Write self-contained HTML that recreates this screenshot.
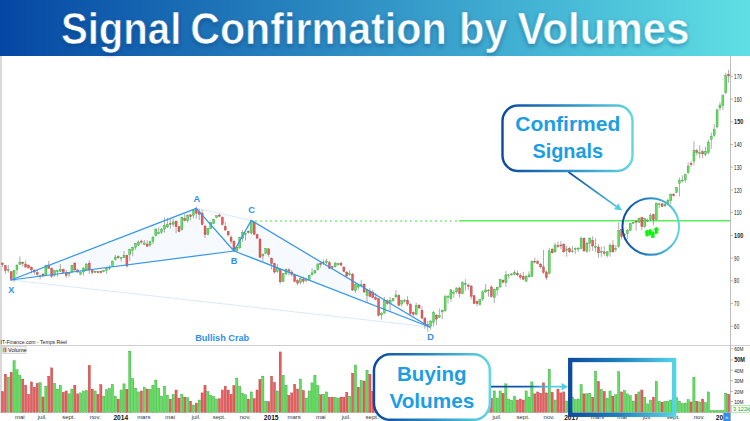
<!DOCTYPE html>
<html><head><meta charset="utf-8">
<style>
html,body{margin:0;padding:0;background:#fff;}
body{width:750px;height:421px;overflow:hidden;position:relative;font-family:"Liberation Sans",sans-serif;}
#hdr{position:absolute;left:0;top:0;width:750px;height:55.5px;background:linear-gradient(90deg,#0547a4 0%,#1a6db4 25%,#3193c6 50%,#47b9d6 75%,#5fdfe4 100%);}
#ttl{position:absolute;left:0;top:0;width:750px;height:55px;color:#fff;font-weight:bold;font-size:42.5px;line-height:1;white-space:nowrap;text-shadow:0 1px 5px rgba(0,30,90,.35);}
#ttl span{position:absolute;top:8.8px;display:inline-block;transform-origin:0 50%;}
svg{position:absolute;left:0;top:0;}
svg text{font-family:"Liberation Sans",sans-serif;}
</style></head><body>
<div id="hdr"></div>
<svg width="750" height="421" viewBox="0 0 750 421">
<defs>
<filter id="bl" x="-1%" y="-1%" width="102%" height="102%"><feGaussianBlur stdDeviation="0.3"/></filter>
<linearGradient id="gb" x1="0" y1="0" x2="1" y2="0"><stop offset="0" stop-color="#0c4a9f"/><stop offset="0.5" stop-color="#2a8cc4"/><stop offset="1" stop-color="#5fd8e4"/></linearGradient>
<linearGradient id="garr" gradientUnits="userSpaceOnUse" x1="568" y1="172" x2="622" y2="210"><stop offset="0" stop-color="#0c4a9f"/><stop offset="1" stop-color="#4fd0e2"/></linearGradient>
<linearGradient id="garr2" gradientUnits="userSpaceOnUse" x1="491" y1="386" x2="568" y2="386"><stop offset="0" stop-color="#0c4a9f"/><stop offset="0.5" stop-color="#155aaa"/><stop offset="0.75" stop-color="#4fd0e2"/><stop offset="1" stop-color="#4fd0e2"/></linearGradient>
<linearGradient id="gcirc" gradientUnits="userSpaceOnUse" x1="622" y1="226" x2="680" y2="226"><stop offset="0" stop-color="#0c4a9f"/><stop offset="0.5" stop-color="#2a8cc4"/><stop offset="1" stop-color="#5fd8e4"/></linearGradient>
<linearGradient id="grect" gradientUnits="userSpaceOnUse" x1="568" y1="0" x2="676" y2="0"><stop offset="0" stop-color="#0c4a9f"/><stop offset="0.45" stop-color="#1f7cbb"/><stop offset="1" stop-color="#55d6e6"/></linearGradient>
</defs>
<linearGradient id="ghdr" gradientUnits="userSpaceOnUse" x1="0" y1="0" x2="750" y2="0"><stop offset="0" stop-color="#0547a4"/><stop offset="0.25" stop-color="#1a6db4"/><stop offset="0.5" stop-color="#3193c6"/><stop offset="0.75" stop-color="#47b9d6"/><stop offset="1" stop-color="#5fdfe4"/></linearGradient>
<filter id="tsh" x="-5%" y="-30%" width="110%" height="170%"><feGaussianBlur stdDeviation="2.2"/></filter>
<g font-weight="bold" font-size="43.5" lengthAdjust="spacingAndGlyphs">
<g fill="#002a6a" fill-opacity="0.42" filter="url(#tsh)" transform="translate(0,1.5)">
<text x="60.9" y="44.3" textLength="120.4" lengthAdjust="spacingAndGlyphs">Signal</text>
<text x="190.2" y="44.3" textLength="256.4" lengthAdjust="spacingAndGlyphs">Confirmation</text>
<text x="459" y="44.3" textLength="48.4" lengthAdjust="spacingAndGlyphs">by</text>
<text x="517.4" y="44.3" textLength="172.1" lengthAdjust="spacingAndGlyphs">Volumes</text>
</g>
<g fill="#fff" stroke="url(#ghdr)" stroke-width="0.7">
<text x="60.9" y="44.3" textLength="120.4" lengthAdjust="spacingAndGlyphs">Signal</text>
<text x="190.2" y="44.3" textLength="256.4" lengthAdjust="spacingAndGlyphs">Confirmation</text>
<text x="459" y="44.3" textLength="48.4" lengthAdjust="spacingAndGlyphs">by</text>
<text x="517.4" y="44.3" textLength="172.1" lengthAdjust="spacingAndGlyphs">Volumes</text>
</g>
</g>
<!-- frame lines -->
<line x1="1" x2="1" y1="56" y2="413" stroke="#aaa" stroke-width="0.9"/>
<line x1="0" x2="750" y1="345.5" y2="345.5" stroke="#cfcfcf" stroke-width="1"/>
<line x1="730.5" x2="730.5" y1="56" y2="421" stroke="#b8b8b8" stroke-width="0.9"/>
<line x1="0" x2="730" y1="412.6" y2="412.6" stroke="#bdbdbd" stroke-width="0.6"/>
<!-- pattern fills -->
<polygon points="11,280 196.3,208.3 234,251" fill="#e3effc" fill-opacity="0.32"/>
<polygon points="234,251 251.3,220.4 429.7,327" fill="#e3effc" fill-opacity="0.32"/>
<line x1="11" y1="280" x2="429.7" y2="327" stroke="#cfe3fa" stroke-width="0.8"/>
<line x1="196.3" y1="208.3" x2="251.3" y2="220.4" stroke="#cfe3fa" stroke-width="0.8"/>
<!-- green lines -->
<line x1="255" x2="460" y1="221" y2="221" stroke="#80f080" stroke-width="1.3" stroke-dasharray="2 3"/>
<line x1="459" x2="730" y1="220.7" y2="220.7" stroke="#58f058" stroke-width="1.6"/>
<g id="candles" filter="url(#bl)">
<line x1="2.50" x2="2.50" y1="262.67" y2="267.07" stroke="#808080" stroke-width="0.65"/>
<rect x="1.50" y="263.07" width="2.0" height="1.60" fill="#e75c5c" stroke="#b23c3c" stroke-width="0.35"/>
<line x1="5.39" x2="5.39" y1="264.93" y2="274.00" stroke="#808080" stroke-width="0.65"/>
<rect x="4.39" y="265.73" width="2.0" height="4.93" fill="#e75c5c" stroke="#b23c3c" stroke-width="0.35"/>
<line x1="8.29" x2="8.29" y1="264.93" y2="272.67" stroke="#808080" stroke-width="0.65"/>
<rect x="7.29" y="269.73" width="2.0" height="0.90" fill="#5ee05e" stroke="#2a982a" stroke-width="0.35"/>
<line x1="11.18" x2="11.18" y1="271.33" y2="280.00" stroke="#808080" stroke-width="0.65"/>
<rect x="10.18" y="271.60" width="2.0" height="7.47" fill="#e75c5c" stroke="#b23c3c" stroke-width="0.35"/>
<line x1="14.07" x2="14.07" y1="269.73" y2="282.00" stroke="#808080" stroke-width="0.65"/>
<rect x="13.07" y="270.27" width="2.0" height="8.40" fill="#5ee05e" stroke="#2a982a" stroke-width="0.35"/>
<line x1="16.96" x2="16.96" y1="264.40" y2="274.67" stroke="#808080" stroke-width="0.65"/>
<rect x="15.96" y="265.07" width="2.0" height="4.67" fill="#5ee05e" stroke="#2a982a" stroke-width="0.35"/>
<line x1="19.86" x2="19.86" y1="256.40" y2="264.93" stroke="#808080" stroke-width="0.65"/>
<rect x="18.86" y="262.00" width="2.0" height="2.40" fill="#5ee05e" stroke="#2a982a" stroke-width="0.35"/>
<line x1="22.75" x2="22.75" y1="261.73" y2="266.67" stroke="#808080" stroke-width="0.65"/>
<rect x="21.75" y="262.27" width="2.0" height="1.33" fill="#e75c5c" stroke="#b23c3c" stroke-width="0.35"/>
<line x1="25.64" x2="25.64" y1="260.40" y2="267.60" stroke="#808080" stroke-width="0.65"/>
<rect x="24.64" y="264.00" width="2.0" height="3.07" fill="#e75c5c" stroke="#b23c3c" stroke-width="0.35"/>
<line x1="28.54" x2="28.54" y1="264.67" y2="268.40" stroke="#808080" stroke-width="0.65"/>
<rect x="27.54" y="265.07" width="2.0" height="2.93" fill="#e75c5c" stroke="#b23c3c" stroke-width="0.35"/>
<line x1="31.43" x2="31.43" y1="266.67" y2="273.33" stroke="#808080" stroke-width="0.65"/>
<rect x="30.43" y="267.07" width="2.0" height="2.93" fill="#e75c5c" stroke="#b23c3c" stroke-width="0.35"/>
<line x1="34.32" x2="34.32" y1="269.33" y2="274.67" stroke="#808080" stroke-width="0.65"/>
<rect x="33.32" y="270.00" width="2.0" height="2.00" fill="#e75c5c" stroke="#b23c3c" stroke-width="0.35"/>
<line x1="37.22" x2="37.22" y1="269.33" y2="276.00" stroke="#808080" stroke-width="0.65"/>
<rect x="36.22" y="272.67" width="2.0" height="1.60" fill="#e75c5c" stroke="#b23c3c" stroke-width="0.35"/>
<line x1="40.11" x2="40.11" y1="274.67" y2="279.33" stroke="#808080" stroke-width="0.65"/>
<rect x="39.11" y="275.73" width="2.0" height="0.90" fill="#5ee05e" stroke="#2a982a" stroke-width="0.35"/>
<line x1="43.00" x2="43.00" y1="273.33" y2="277.33" stroke="#808080" stroke-width="0.65"/>
<rect x="42.00" y="274.00" width="2.0" height="1.60" fill="#e75c5c" stroke="#b23c3c" stroke-width="0.35"/>
<line x1="45.89" x2="45.89" y1="264.67" y2="276.00" stroke="#808080" stroke-width="0.65"/>
<rect x="44.89" y="265.33" width="2.0" height="10.00" fill="#5ee05e" stroke="#2a982a" stroke-width="0.35"/>
<line x1="48.79" x2="48.79" y1="260.93" y2="268.93" stroke="#808080" stroke-width="0.65"/>
<rect x="47.79" y="265.07" width="2.0" height="3.33" fill="#e75c5c" stroke="#b23c3c" stroke-width="0.35"/>
<line x1="51.68" x2="51.68" y1="267.33" y2="277.73" stroke="#808080" stroke-width="0.65"/>
<rect x="50.68" y="268.40" width="2.0" height="8.00" fill="#e75c5c" stroke="#b23c3c" stroke-width="0.35"/>
<line x1="54.57" x2="54.57" y1="270.00" y2="276.67" stroke="#808080" stroke-width="0.65"/>
<rect x="53.57" y="270.67" width="2.0" height="4.67" fill="#5ee05e" stroke="#2a982a" stroke-width="0.35"/>
<line x1="57.47" x2="57.47" y1="270.00" y2="276.67" stroke="#808080" stroke-width="0.65"/>
<rect x="56.47" y="270.80" width="2.0" height="0.90" fill="#5ee05e" stroke="#2a982a" stroke-width="0.35"/>
<line x1="60.36" x2="60.36" y1="264.00" y2="272.00" stroke="#808080" stroke-width="0.65"/>
<rect x="59.36" y="269.33" width="2.0" height="2.00" fill="#5ee05e" stroke="#2a982a" stroke-width="0.35"/>
<line x1="63.25" x2="63.25" y1="268.67" y2="273.33" stroke="#808080" stroke-width="0.65"/>
<rect x="62.25" y="269.33" width="2.0" height="3.33" fill="#e75c5c" stroke="#b23c3c" stroke-width="0.35"/>
<line x1="66.15" x2="66.15" y1="270.00" y2="278.00" stroke="#808080" stroke-width="0.65"/>
<rect x="65.15" y="272.67" width="2.0" height="2.93" fill="#e75c5c" stroke="#b23c3c" stroke-width="0.35"/>
<line x1="69.04" x2="69.04" y1="272.00" y2="277.33" stroke="#808080" stroke-width="0.65"/>
<rect x="68.04" y="273.07" width="2.0" height="0.90" fill="#5ee05e" stroke="#2a982a" stroke-width="0.35"/>
<line x1="71.93" x2="71.93" y1="264.93" y2="272.67" stroke="#808080" stroke-width="0.65"/>
<rect x="70.93" y="265.33" width="2.0" height="6.67" fill="#5ee05e" stroke="#2a982a" stroke-width="0.35"/>
<line x1="74.82" x2="74.82" y1="262.27" y2="270.67" stroke="#808080" stroke-width="0.65"/>
<rect x="73.82" y="263.07" width="2.0" height="6.93" fill="#e75c5c" stroke="#b23c3c" stroke-width="0.35"/>
<line x1="77.72" x2="77.72" y1="268.67" y2="272.93" stroke="#808080" stroke-width="0.65"/>
<rect x="76.72" y="270.00" width="2.0" height="2.00" fill="#e75c5c" stroke="#b23c3c" stroke-width="0.35"/>
<line x1="80.61" x2="80.61" y1="271.33" y2="275.07" stroke="#808080" stroke-width="0.65"/>
<rect x="79.61" y="272.00" width="2.0" height="2.27" fill="#5ee05e" stroke="#2a982a" stroke-width="0.35"/>
<line x1="83.50" x2="83.50" y1="267.60" y2="275.60" stroke="#808080" stroke-width="0.65"/>
<rect x="82.50" y="268.00" width="2.0" height="4.00" fill="#5ee05e" stroke="#2a982a" stroke-width="0.35"/>
<line x1="86.40" x2="86.40" y1="263.33" y2="270.67" stroke="#808080" stroke-width="0.65"/>
<rect x="85.40" y="264.00" width="2.0" height="6.00" fill="#5ee05e" stroke="#2a982a" stroke-width="0.35"/>
<line x1="89.29" x2="89.29" y1="260.40" y2="274.00" stroke="#808080" stroke-width="0.65"/>
<rect x="88.29" y="263.07" width="2.0" height="6.93" fill="#e75c5c" stroke="#b23c3c" stroke-width="0.35"/>
<line x1="92.18" x2="92.18" y1="270.00" y2="274.67" stroke="#808080" stroke-width="0.65"/>
<rect x="91.18" y="270.67" width="2.0" height="1.73" fill="#e75c5c" stroke="#b23c3c" stroke-width="0.35"/>
<line x1="95.08" x2="95.08" y1="270.67" y2="272.93" stroke="#808080" stroke-width="0.65"/>
<rect x="94.08" y="271.47" width="2.0" height="0.90" fill="#5ee05e" stroke="#2a982a" stroke-width="0.35"/>
<line x1="97.97" x2="97.97" y1="271.07" y2="273.33" stroke="#808080" stroke-width="0.65"/>
<rect x="96.97" y="271.73" width="2.0" height="0.90" fill="#e75c5c" stroke="#b23c3c" stroke-width="0.35"/>
<line x1="100.86" x2="100.86" y1="270.67" y2="273.33" stroke="#808080" stroke-width="0.65"/>
<rect x="99.86" y="271.33" width="2.0" height="1.33" fill="#e75c5c" stroke="#b23c3c" stroke-width="0.35"/>
<line x1="103.75" x2="103.75" y1="270.00" y2="272.27" stroke="#808080" stroke-width="0.65"/>
<rect x="102.75" y="270.67" width="2.0" height="0.90" fill="#5ee05e" stroke="#2a982a" stroke-width="0.35"/>
<line x1="106.65" x2="106.65" y1="268.00" y2="274.00" stroke="#808080" stroke-width="0.65"/>
<rect x="105.65" y="268.67" width="2.0" height="1.73" fill="#5ee05e" stroke="#2a982a" stroke-width="0.35"/>
<line x1="109.54" x2="109.54" y1="265.33" y2="270.00" stroke="#808080" stroke-width="0.65"/>
<rect x="108.54" y="267.47" width="2.0" height="0.90" fill="#5ee05e" stroke="#2a982a" stroke-width="0.35"/>
<line x1="112.43" x2="112.43" y1="260.40" y2="266.93" stroke="#808080" stroke-width="0.65"/>
<rect x="111.43" y="261.07" width="2.0" height="5.33" fill="#5ee05e" stroke="#2a982a" stroke-width="0.35"/>
<line x1="115.33" x2="115.33" y1="254.93" y2="260.67" stroke="#808080" stroke-width="0.65"/>
<rect x="114.33" y="257.07" width="2.0" height="2.67" fill="#5ee05e" stroke="#2a982a" stroke-width="0.35"/>
<line x1="118.22" x2="118.22" y1="255.33" y2="258.93" stroke="#808080" stroke-width="0.65"/>
<rect x="117.22" y="256.67" width="2.0" height="1.07" fill="#e75c5c" stroke="#b23c3c" stroke-width="0.35"/>
<line x1="121.11" x2="121.11" y1="257.07" y2="261.60" stroke="#808080" stroke-width="0.65"/>
<rect x="120.11" y="257.47" width="2.0" height="0.90" fill="#5ee05e" stroke="#2a982a" stroke-width="0.35"/>
<line x1="124.01" x2="124.01" y1="250.93" y2="258.00" stroke="#808080" stroke-width="0.65"/>
<rect x="123.01" y="255.33" width="2.0" height="2.27" fill="#5ee05e" stroke="#2a982a" stroke-width="0.35"/>
<line x1="126.90" x2="126.90" y1="254.67" y2="267.73" stroke="#808080" stroke-width="0.65"/>
<rect x="125.90" y="255.33" width="2.0" height="10.67" fill="#e75c5c" stroke="#b23c3c" stroke-width="0.35"/>
<line x1="129.79" x2="129.79" y1="248.67" y2="260.67" stroke="#808080" stroke-width="0.65"/>
<rect x="128.79" y="249.60" width="2.0" height="4.80" fill="#5ee05e" stroke="#2a982a" stroke-width="0.35"/>
<line x1="132.69" x2="132.69" y1="246.67" y2="256.27" stroke="#808080" stroke-width="0.65"/>
<rect x="131.69" y="247.33" width="2.0" height="3.07" fill="#5ee05e" stroke="#2a982a" stroke-width="0.35"/>
<line x1="135.58" x2="135.58" y1="242.93" y2="250.00" stroke="#808080" stroke-width="0.65"/>
<rect x="134.58" y="243.73" width="2.0" height="3.60" fill="#5ee05e" stroke="#2a982a" stroke-width="0.35"/>
<line x1="138.47" x2="138.47" y1="240.27" y2="246.00" stroke="#808080" stroke-width="0.65"/>
<rect x="137.47" y="242.00" width="2.0" height="3.07" fill="#5ee05e" stroke="#2a982a" stroke-width="0.35"/>
<line x1="141.36" x2="141.36" y1="239.73" y2="243.73" stroke="#808080" stroke-width="0.65"/>
<rect x="140.36" y="241.07" width="2.0" height="1.07" fill="#e75c5c" stroke="#b23c3c" stroke-width="0.35"/>
<line x1="144.26" x2="144.26" y1="240.00" y2="245.33" stroke="#808080" stroke-width="0.65"/>
<rect x="143.26" y="242.93" width="2.0" height="1.33" fill="#5ee05e" stroke="#2a982a" stroke-width="0.35"/>
<line x1="147.15" x2="147.15" y1="240.27" y2="246.67" stroke="#808080" stroke-width="0.65"/>
<rect x="146.15" y="244.00" width="2.0" height="2.40" fill="#e75c5c" stroke="#b23c3c" stroke-width="0.35"/>
<line x1="150.04" x2="150.04" y1="240.67" y2="246.67" stroke="#808080" stroke-width="0.65"/>
<rect x="149.04" y="241.73" width="2.0" height="3.33" fill="#5ee05e" stroke="#2a982a" stroke-width="0.35"/>
<line x1="152.94" x2="152.94" y1="236.27" y2="244.00" stroke="#808080" stroke-width="0.65"/>
<rect x="151.94" y="237.07" width="2.0" height="4.27" fill="#5ee05e" stroke="#2a982a" stroke-width="0.35"/>
<line x1="155.83" x2="155.83" y1="228.27" y2="236.27" stroke="#808080" stroke-width="0.65"/>
<rect x="154.83" y="229.07" width="2.0" height="6.67" fill="#5ee05e" stroke="#2a982a" stroke-width="0.35"/>
<line x1="158.72" x2="158.72" y1="227.33" y2="234.40" stroke="#808080" stroke-width="0.65"/>
<rect x="157.72" y="232.67" width="2.0" height="1.07" fill="#5ee05e" stroke="#2a982a" stroke-width="0.35"/>
<line x1="161.61" x2="161.61" y1="228.00" y2="234.00" stroke="#808080" stroke-width="0.65"/>
<rect x="160.61" y="229.07" width="2.0" height="3.20" fill="#5ee05e" stroke="#2a982a" stroke-width="0.35"/>
<line x1="164.51" x2="164.51" y1="217.33" y2="232.67" stroke="#808080" stroke-width="0.65"/>
<rect x="163.51" y="225.60" width="2.0" height="3.47" fill="#5ee05e" stroke="#2a982a" stroke-width="0.35"/>
<line x1="167.40" x2="167.40" y1="218.00" y2="228.00" stroke="#808080" stroke-width="0.65"/>
<rect x="166.40" y="224.67" width="2.0" height="2.27" fill="#5ee05e" stroke="#2a982a" stroke-width="0.35"/>
<line x1="170.29" x2="170.29" y1="219.33" y2="228.67" stroke="#808080" stroke-width="0.65"/>
<rect x="169.29" y="223.47" width="2.0" height="0.90" fill="#e75c5c" stroke="#b23c3c" stroke-width="0.35"/>
<line x1="173.19" x2="173.19" y1="218.67" y2="226.67" stroke="#808080" stroke-width="0.65"/>
<rect x="172.19" y="222.00" width="2.0" height="2.27" fill="#5ee05e" stroke="#2a982a" stroke-width="0.35"/>
<line x1="176.08" x2="176.08" y1="220.67" y2="233.33" stroke="#808080" stroke-width="0.65"/>
<rect x="175.08" y="221.07" width="2.0" height="5.60" fill="#e75c5c" stroke="#b23c3c" stroke-width="0.35"/>
<line x1="178.97" x2="178.97" y1="226.00" y2="232.27" stroke="#808080" stroke-width="0.65"/>
<rect x="177.97" y="226.67" width="2.0" height="5.07" fill="#e75c5c" stroke="#b23c3c" stroke-width="0.35"/>
<line x1="181.87" x2="181.87" y1="216.67" y2="230.93" stroke="#808080" stroke-width="0.65"/>
<rect x="180.87" y="217.33" width="2.0" height="12.00" fill="#5ee05e" stroke="#2a982a" stroke-width="0.35"/>
<line x1="184.76" x2="184.76" y1="214.00" y2="221.33" stroke="#808080" stroke-width="0.65"/>
<rect x="183.76" y="218.40" width="2.0" height="2.27" fill="#e75c5c" stroke="#b23c3c" stroke-width="0.35"/>
<line x1="187.65" x2="187.65" y1="214.40" y2="222.67" stroke="#808080" stroke-width="0.65"/>
<rect x="186.65" y="215.33" width="2.0" height="5.33" fill="#5ee05e" stroke="#2a982a" stroke-width="0.35"/>
<line x1="190.54" x2="190.54" y1="214.00" y2="220.27" stroke="#808080" stroke-width="0.65"/>
<rect x="189.54" y="214.93" width="2.0" height="1.73" fill="#e75c5c" stroke="#b23c3c" stroke-width="0.35"/>
<line x1="193.44" x2="193.44" y1="209.33" y2="218.40" stroke="#808080" stroke-width="0.65"/>
<rect x="192.44" y="210.40" width="2.0" height="4.93" fill="#5ee05e" stroke="#2a982a" stroke-width="0.35"/>
<line x1="196.33" x2="196.33" y1="206.40" y2="218.67" stroke="#808080" stroke-width="0.65"/>
<rect x="195.33" y="209.33" width="2.0" height="4.00" fill="#e75c5c" stroke="#b23c3c" stroke-width="0.35"/>
<line x1="199.22" x2="199.22" y1="208.67" y2="220.00" stroke="#808080" stroke-width="0.65"/>
<rect x="198.22" y="212.00" width="2.0" height="2.40" fill="#e75c5c" stroke="#b23c3c" stroke-width="0.35"/>
<line x1="202.12" x2="202.12" y1="210.00" y2="225.33" stroke="#808080" stroke-width="0.65"/>
<rect x="201.12" y="213.07" width="2.0" height="11.60" fill="#e75c5c" stroke="#b23c3c" stroke-width="0.35"/>
<line x1="205.01" x2="205.01" y1="225.33" y2="238.00" stroke="#808080" stroke-width="0.65"/>
<rect x="204.01" y="226.00" width="2.0" height="8.67" fill="#e75c5c" stroke="#b23c3c" stroke-width="0.35"/>
<line x1="207.90" x2="207.90" y1="228.00" y2="235.33" stroke="#808080" stroke-width="0.65"/>
<rect x="206.90" y="228.67" width="2.0" height="5.73" fill="#5ee05e" stroke="#2a982a" stroke-width="0.35"/>
<line x1="210.80" x2="210.80" y1="221.60" y2="229.33" stroke="#808080" stroke-width="0.65"/>
<rect x="209.80" y="222.40" width="2.0" height="6.27" fill="#5ee05e" stroke="#2a982a" stroke-width="0.35"/>
<line x1="213.69" x2="213.69" y1="218.67" y2="224.27" stroke="#808080" stroke-width="0.65"/>
<rect x="212.69" y="219.33" width="2.0" height="4.40" fill="#5ee05e" stroke="#2a982a" stroke-width="0.35"/>
<line x1="216.58" x2="216.58" y1="215.33" y2="218.40" stroke="#808080" stroke-width="0.65"/>
<rect x="215.58" y="215.73" width="2.0" height="1.87" fill="#5ee05e" stroke="#2a982a" stroke-width="0.35"/>
<line x1="219.47" x2="219.47" y1="213.60" y2="217.33" stroke="#808080" stroke-width="0.65"/>
<rect x="218.47" y="215.07" width="2.0" height="1.20" fill="#e75c5c" stroke="#b23c3c" stroke-width="0.35"/>
<line x1="222.37" x2="222.37" y1="216.67" y2="225.60" stroke="#808080" stroke-width="0.65"/>
<rect x="221.37" y="217.07" width="2.0" height="7.60" fill="#e75c5c" stroke="#b23c3c" stroke-width="0.35"/>
<line x1="225.26" x2="225.26" y1="222.00" y2="230.93" stroke="#808080" stroke-width="0.65"/>
<rect x="224.26" y="226.40" width="2.0" height="3.60" fill="#e75c5c" stroke="#b23c3c" stroke-width="0.35"/>
<line x1="228.15" x2="228.15" y1="230.93" y2="236.67" stroke="#808080" stroke-width="0.65"/>
<rect x="227.15" y="231.33" width="2.0" height="3.60" fill="#e75c5c" stroke="#b23c3c" stroke-width="0.35"/>
<line x1="231.05" x2="231.05" y1="235.33" y2="244.00" stroke="#808080" stroke-width="0.65"/>
<rect x="230.05" y="237.33" width="2.0" height="4.00" fill="#e75c5c" stroke="#b23c3c" stroke-width="0.35"/>
<line x1="233.94" x2="233.94" y1="240.67" y2="250.93" stroke="#808080" stroke-width="0.65"/>
<rect x="232.94" y="241.07" width="2.0" height="8.93" fill="#e75c5c" stroke="#b23c3c" stroke-width="0.35"/>
<line x1="236.83" x2="236.83" y1="246.67" y2="252.00" stroke="#808080" stroke-width="0.65"/>
<rect x="235.83" y="247.33" width="2.0" height="3.60" fill="#5ee05e" stroke="#2a982a" stroke-width="0.35"/>
<line x1="239.73" x2="239.73" y1="236.67" y2="248.67" stroke="#808080" stroke-width="0.65"/>
<rect x="238.73" y="237.33" width="2.0" height="10.67" fill="#5ee05e" stroke="#2a982a" stroke-width="0.35"/>
<line x1="242.62" x2="242.62" y1="230.00" y2="242.00" stroke="#808080" stroke-width="0.65"/>
<rect x="241.62" y="232.27" width="2.0" height="6.13" fill="#5ee05e" stroke="#2a982a" stroke-width="0.35"/>
<line x1="245.51" x2="245.51" y1="232.67" y2="240.67" stroke="#808080" stroke-width="0.65"/>
<rect x="244.51" y="233.73" width="2.0" height="0.90" fill="#5ee05e" stroke="#2a982a" stroke-width="0.35"/>
<line x1="248.40" x2="248.40" y1="230.40" y2="233.60" stroke="#808080" stroke-width="0.65"/>
<rect x="247.40" y="231.33" width="2.0" height="1.33" fill="#e75c5c" stroke="#b23c3c" stroke-width="0.35"/>
<line x1="251.30" x2="251.30" y1="220.00" y2="234.00" stroke="#808080" stroke-width="0.65"/>
<rect x="250.30" y="220.67" width="2.0" height="12.40" fill="#5ee05e" stroke="#2a982a" stroke-width="0.35"/>
<line x1="254.19" x2="254.19" y1="221.24" y2="234.96" stroke="#808080" stroke-width="0.65"/>
<rect x="253.19" y="222.13" width="2.0" height="12.12" fill="#e75c5c" stroke="#b23c3c" stroke-width="0.35"/>
<line x1="257.08" x2="257.08" y1="233.72" y2="239.06" stroke="#808080" stroke-width="0.65"/>
<rect x="256.08" y="234.61" width="2.0" height="3.57" fill="#e75c5c" stroke="#b23c3c" stroke-width="0.35"/>
<line x1="259.98" x2="259.98" y1="238.17" y2="258.14" stroke="#808080" stroke-width="0.65"/>
<rect x="258.98" y="239.06" width="2.0" height="18.36" fill="#e75c5c" stroke="#b23c3c" stroke-width="0.35"/>
<line x1="262.87" x2="262.87" y1="253.32" y2="261.70" stroke="#808080" stroke-width="0.65"/>
<rect x="261.87" y="254.57" width="2.0" height="1.43" fill="#5ee05e" stroke="#2a982a" stroke-width="0.35"/>
<line x1="265.76" x2="265.76" y1="247.98" y2="254.22" stroke="#808080" stroke-width="0.65"/>
<rect x="264.76" y="248.51" width="2.0" height="4.81" fill="#5ee05e" stroke="#2a982a" stroke-width="0.35"/>
<line x1="268.66" x2="268.66" y1="247.98" y2="256.89" stroke="#808080" stroke-width="0.65"/>
<rect x="267.66" y="248.87" width="2.0" height="5.70" fill="#e75c5c" stroke="#b23c3c" stroke-width="0.35"/>
<line x1="271.55" x2="271.55" y1="257.42" y2="269.37" stroke="#808080" stroke-width="0.65"/>
<rect x="270.55" y="258.14" width="2.0" height="5.35" fill="#e75c5c" stroke="#b23c3c" stroke-width="0.35"/>
<line x1="274.44" x2="274.44" y1="262.77" y2="273.82" stroke="#808080" stroke-width="0.65"/>
<rect x="273.44" y="263.48" width="2.0" height="8.56" fill="#e75c5c" stroke="#b23c3c" stroke-width="0.35"/>
<line x1="277.33" x2="277.33" y1="264.02" y2="272.93" stroke="#808080" stroke-width="0.65"/>
<rect x="276.33" y="268.48" width="2.0" height="3.21" fill="#5ee05e" stroke="#2a982a" stroke-width="0.35"/>
<line x1="280.23" x2="280.23" y1="268.48" y2="283.63" stroke="#808080" stroke-width="0.65"/>
<rect x="279.23" y="269.37" width="2.0" height="12.48" fill="#e75c5c" stroke="#b23c3c" stroke-width="0.35"/>
<line x1="283.12" x2="283.12" y1="272.93" y2="282.38" stroke="#808080" stroke-width="0.65"/>
<rect x="282.12" y="273.82" width="2.0" height="7.49" fill="#5ee05e" stroke="#2a982a" stroke-width="0.35"/>
<line x1="286.01" x2="286.01" y1="268.48" y2="275.61" stroke="#808080" stroke-width="0.65"/>
<rect x="285.01" y="269.37" width="2.0" height="4.46" fill="#5ee05e" stroke="#2a982a" stroke-width="0.35"/>
<line x1="288.91" x2="288.91" y1="268.12" y2="275.61" stroke="#808080" stroke-width="0.65"/>
<rect x="287.91" y="269.90" width="2.0" height="1.25" fill="#e75c5c" stroke="#b23c3c" stroke-width="0.35"/>
<line x1="291.80" x2="291.80" y1="270.26" y2="276.50" stroke="#808080" stroke-width="0.65"/>
<rect x="290.80" y="272.04" width="2.0" height="2.14" fill="#e75c5c" stroke="#b23c3c" stroke-width="0.35"/>
<line x1="294.69" x2="294.69" y1="274.18" y2="282.38" stroke="#808080" stroke-width="0.65"/>
<rect x="293.69" y="275.25" width="2.0" height="6.06" fill="#e75c5c" stroke="#b23c3c" stroke-width="0.35"/>
<line x1="297.59" x2="297.59" y1="279.17" y2="285.41" stroke="#808080" stroke-width="0.65"/>
<rect x="296.59" y="280.60" width="2.0" height="2.50" fill="#e75c5c" stroke="#b23c3c" stroke-width="0.35"/>
<line x1="300.48" x2="300.48" y1="277.39" y2="284.52" stroke="#808080" stroke-width="0.65"/>
<rect x="299.48" y="278.81" width="2.0" height="3.57" fill="#5ee05e" stroke="#2a982a" stroke-width="0.35"/>
<line x1="303.37" x2="303.37" y1="276.50" y2="283.63" stroke="#808080" stroke-width="0.65"/>
<rect x="302.37" y="279.17" width="2.0" height="2.14" fill="#e75c5c" stroke="#b23c3c" stroke-width="0.35"/>
<line x1="306.26" x2="306.26" y1="278.28" y2="282.38" stroke="#808080" stroke-width="0.65"/>
<rect x="305.26" y="279.71" width="2.0" height="0.90" fill="#5ee05e" stroke="#2a982a" stroke-width="0.35"/>
<line x1="309.16" x2="309.16" y1="274.71" y2="280.60" stroke="#808080" stroke-width="0.65"/>
<rect x="308.16" y="275.25" width="2.0" height="4.28" fill="#5ee05e" stroke="#2a982a" stroke-width="0.35"/>
<line x1="312.05" x2="312.05" y1="268.48" y2="275.61" stroke="#808080" stroke-width="0.65"/>
<rect x="311.05" y="272.93" width="2.0" height="1.78" fill="#5ee05e" stroke="#2a982a" stroke-width="0.35"/>
<line x1="314.94" x2="314.94" y1="269.90" y2="274.18" stroke="#808080" stroke-width="0.65"/>
<rect x="313.94" y="270.61" width="2.0" height="2.32" fill="#5ee05e" stroke="#2a982a" stroke-width="0.35"/>
<line x1="317.84" x2="317.84" y1="263.13" y2="270.61" stroke="#808080" stroke-width="0.65"/>
<rect x="316.84" y="264.02" width="2.0" height="5.35" fill="#5ee05e" stroke="#2a982a" stroke-width="0.35"/>
<line x1="320.73" x2="320.73" y1="262.24" y2="267.58" stroke="#808080" stroke-width="0.65"/>
<rect x="319.73" y="263.13" width="2.0" height="1.43" fill="#e75c5c" stroke="#b23c3c" stroke-width="0.35"/>
<line x1="323.62" x2="323.62" y1="259.56" y2="264.91" stroke="#808080" stroke-width="0.65"/>
<rect x="322.62" y="261.88" width="2.0" height="0.90" fill="#5ee05e" stroke="#2a982a" stroke-width="0.35"/>
<line x1="326.52" x2="326.52" y1="258.67" y2="264.02" stroke="#808080" stroke-width="0.65"/>
<rect x="325.52" y="260.99" width="2.0" height="1.78" fill="#5ee05e" stroke="#2a982a" stroke-width="0.35"/>
<line x1="329.41" x2="329.41" y1="260.99" y2="269.37" stroke="#808080" stroke-width="0.65"/>
<rect x="328.41" y="262.77" width="2.0" height="5.35" fill="#e75c5c" stroke="#b23c3c" stroke-width="0.35"/>
<line x1="332.30" x2="332.30" y1="265.80" y2="269.37" stroke="#808080" stroke-width="0.65"/>
<rect x="331.30" y="266.69" width="2.0" height="0.90" fill="#e75c5c" stroke="#b23c3c" stroke-width="0.35"/>
<line x1="335.19" x2="335.19" y1="261.81" y2="267.66" stroke="#808080" stroke-width="0.65"/>
<rect x="334.19" y="263.18" width="2.0" height="3.50" fill="#5ee05e" stroke="#2a982a" stroke-width="0.35"/>
<line x1="338.09" x2="338.09" y1="262.79" y2="265.71" stroke="#808080" stroke-width="0.65"/>
<rect x="337.09" y="263.76" width="2.0" height="0.90" fill="#5ee05e" stroke="#2a982a" stroke-width="0.35"/>
<line x1="340.98" x2="340.98" y1="261.81" y2="266.29" stroke="#808080" stroke-width="0.65"/>
<rect x="339.98" y="263.18" width="2.0" height="1.95" fill="#e75c5c" stroke="#b23c3c" stroke-width="0.35"/>
<line x1="343.87" x2="343.87" y1="266.29" y2="272.52" stroke="#808080" stroke-width="0.65"/>
<rect x="342.87" y="267.07" width="2.0" height="4.48" fill="#e75c5c" stroke="#b23c3c" stroke-width="0.35"/>
<line x1="346.77" x2="346.77" y1="270.97" y2="276.81" stroke="#808080" stroke-width="0.65"/>
<rect x="345.77" y="272.13" width="2.0" height="3.89" fill="#e75c5c" stroke="#b23c3c" stroke-width="0.35"/>
<line x1="349.66" x2="349.66" y1="270.19" y2="276.03" stroke="#808080" stroke-width="0.65"/>
<rect x="348.66" y="273.69" width="2.0" height="0.90" fill="#5ee05e" stroke="#2a982a" stroke-width="0.35"/>
<line x1="352.55" x2="352.55" y1="272.91" y2="291.02" stroke="#808080" stroke-width="0.65"/>
<rect x="351.55" y="274.08" width="2.0" height="15.97" fill="#e75c5c" stroke="#b23c3c" stroke-width="0.35"/>
<line x1="355.45" x2="355.45" y1="283.23" y2="292.97" stroke="#808080" stroke-width="0.65"/>
<rect x="354.45" y="284.21" width="2.0" height="6.23" fill="#5ee05e" stroke="#2a982a" stroke-width="0.35"/>
<line x1="358.34" x2="358.34" y1="284.21" y2="289.66" stroke="#808080" stroke-width="0.65"/>
<rect x="357.34" y="285.18" width="2.0" height="1.95" fill="#5ee05e" stroke="#2a982a" stroke-width="0.35"/>
<line x1="361.23" x2="361.23" y1="279.92" y2="287.13" stroke="#808080" stroke-width="0.65"/>
<rect x="360.23" y="284.79" width="2.0" height="0.90" fill="#5ee05e" stroke="#2a982a" stroke-width="0.35"/>
<line x1="364.12" x2="364.12" y1="283.23" y2="292.97" stroke="#808080" stroke-width="0.65"/>
<rect x="363.12" y="284.21" width="2.0" height="7.79" fill="#e75c5c" stroke="#b23c3c" stroke-width="0.35"/>
<line x1="367.02" x2="367.02" y1="289.07" y2="302.70" stroke="#808080" stroke-width="0.65"/>
<rect x="366.02" y="290.05" width="2.0" height="5.45" fill="#5ee05e" stroke="#2a982a" stroke-width="0.35"/>
<line x1="369.91" x2="369.91" y1="288.10" y2="297.45" stroke="#808080" stroke-width="0.65"/>
<rect x="368.91" y="291.02" width="2.0" height="5.26" fill="#e75c5c" stroke="#b23c3c" stroke-width="0.35"/>
<line x1="372.80" x2="372.80" y1="290.05" y2="298.22" stroke="#808080" stroke-width="0.65"/>
<rect x="371.80" y="291.99" width="2.0" height="5.45" fill="#e75c5c" stroke="#b23c3c" stroke-width="0.35"/>
<line x1="375.70" x2="375.70" y1="292.97" y2="300.17" stroke="#808080" stroke-width="0.65"/>
<rect x="374.70" y="297.45" width="2.0" height="1.95" fill="#e75c5c" stroke="#b23c3c" stroke-width="0.35"/>
<line x1="378.59" x2="378.59" y1="297.83" y2="316.33" stroke="#808080" stroke-width="0.65"/>
<rect x="377.59" y="298.81" width="2.0" height="16.55" fill="#e75c5c" stroke="#b23c3c" stroke-width="0.35"/>
<line x1="381.48" x2="381.48" y1="312.44" y2="319.64" stroke="#808080" stroke-width="0.65"/>
<rect x="380.48" y="313.02" width="2.0" height="1.95" fill="#5ee05e" stroke="#2a982a" stroke-width="0.35"/>
<line x1="384.38" x2="384.38" y1="296.86" y2="313.80" stroke="#808080" stroke-width="0.65"/>
<rect x="383.38" y="300.76" width="2.0" height="12.27" fill="#5ee05e" stroke="#2a982a" stroke-width="0.35"/>
<line x1="387.27" x2="387.27" y1="299.39" y2="305.23" stroke="#808080" stroke-width="0.65"/>
<rect x="386.27" y="300.76" width="2.0" height="2.92" fill="#e75c5c" stroke="#b23c3c" stroke-width="0.35"/>
<line x1="390.16" x2="390.16" y1="296.86" y2="311.46" stroke="#808080" stroke-width="0.65"/>
<rect x="389.16" y="300.17" width="2.0" height="3.50" fill="#5ee05e" stroke="#2a982a" stroke-width="0.35"/>
<line x1="393.05" x2="393.05" y1="297.83" y2="301.73" stroke="#808080" stroke-width="0.65"/>
<rect x="392.05" y="298.81" width="2.0" height="1.95" fill="#5ee05e" stroke="#2a982a" stroke-width="0.35"/>
<line x1="395.95" x2="395.95" y1="290.05" y2="298.22" stroke="#808080" stroke-width="0.65"/>
<rect x="394.95" y="294.91" width="2.0" height="1.95" fill="#5ee05e" stroke="#2a982a" stroke-width="0.35"/>
<line x1="398.84" x2="398.84" y1="294.33" y2="306.60" stroke="#808080" stroke-width="0.65"/>
<rect x="397.84" y="295.50" width="2.0" height="9.74" fill="#e75c5c" stroke="#b23c3c" stroke-width="0.35"/>
<line x1="401.73" x2="401.73" y1="299.78" y2="306.60" stroke="#808080" stroke-width="0.65"/>
<rect x="400.73" y="300.76" width="2.0" height="3.31" fill="#5ee05e" stroke="#2a982a" stroke-width="0.35"/>
<line x1="404.63" x2="404.63" y1="298.81" y2="302.70" stroke="#808080" stroke-width="0.65"/>
<rect x="403.63" y="300.37" width="2.0" height="0.90" fill="#5ee05e" stroke="#2a982a" stroke-width="0.35"/>
<line x1="407.52" x2="407.52" y1="296.28" y2="306.01" stroke="#808080" stroke-width="0.65"/>
<rect x="406.52" y="300.17" width="2.0" height="3.89" fill="#e75c5c" stroke="#b23c3c" stroke-width="0.35"/>
<line x1="410.41" x2="410.41" y1="303.29" y2="315.75" stroke="#808080" stroke-width="0.65"/>
<rect x="409.41" y="304.07" width="2.0" height="9.74" fill="#e75c5c" stroke="#b23c3c" stroke-width="0.35"/>
<line x1="413.31" x2="413.31" y1="311.46" y2="315.75" stroke="#808080" stroke-width="0.65"/>
<rect x="412.31" y="312.44" width="2.0" height="1.95" fill="#e75c5c" stroke="#b23c3c" stroke-width="0.35"/>
<line x1="416.20" x2="416.20" y1="302.70" y2="315.36" stroke="#808080" stroke-width="0.65"/>
<rect x="415.20" y="305.23" width="2.0" height="9.15" fill="#5ee05e" stroke="#2a982a" stroke-width="0.35"/>
<line x1="419.09" x2="419.09" y1="304.07" y2="309.13" stroke="#808080" stroke-width="0.65"/>
<rect x="418.09" y="305.23" width="2.0" height="2.73" fill="#e75c5c" stroke="#b23c3c" stroke-width="0.35"/>
<line x1="421.98" x2="421.98" y1="306.46" y2="319.12" stroke="#808080" stroke-width="0.65"/>
<rect x="420.98" y="310.36" width="2.0" height="7.79" fill="#e75c5c" stroke="#b23c3c" stroke-width="0.35"/>
<line x1="424.88" x2="424.88" y1="317.17" y2="328.86" stroke="#808080" stroke-width="0.65"/>
<rect x="423.88" y="318.15" width="2.0" height="5.84" fill="#e75c5c" stroke="#b23c3c" stroke-width="0.35"/>
<line x1="427.77" x2="427.77" y1="321.07" y2="331.78" stroke="#808080" stroke-width="0.65"/>
<rect x="426.77" y="324.57" width="2.0" height="0.90" fill="#e75c5c" stroke="#b23c3c" stroke-width="0.35"/>
<line x1="430.66" x2="430.66" y1="320.09" y2="329.83" stroke="#808080" stroke-width="0.65"/>
<rect x="429.66" y="321.07" width="2.0" height="5.26" fill="#5ee05e" stroke="#2a982a" stroke-width="0.35"/>
<line x1="433.56" x2="433.56" y1="310.75" y2="326.91" stroke="#808080" stroke-width="0.65"/>
<rect x="432.56" y="312.31" width="2.0" height="10.12" fill="#5ee05e" stroke="#2a982a" stroke-width="0.35"/>
<line x1="436.45" x2="436.45" y1="313.86" y2="324.96" stroke="#808080" stroke-width="0.65"/>
<rect x="435.45" y="315.23" width="2.0" height="3.89" fill="#e75c5c" stroke="#b23c3c" stroke-width="0.35"/>
<line x1="439.34" x2="439.34" y1="308.41" y2="318.15" stroke="#808080" stroke-width="0.65"/>
<rect x="438.34" y="315.23" width="2.0" height="1.95" fill="#5ee05e" stroke="#2a982a" stroke-width="0.35"/>
<line x1="442.24" x2="442.24" y1="309.38" y2="319.12" stroke="#808080" stroke-width="0.65"/>
<rect x="441.24" y="310.36" width="2.0" height="1.56" fill="#5ee05e" stroke="#2a982a" stroke-width="0.35"/>
<line x1="445.13" x2="445.13" y1="294.78" y2="311.92" stroke="#808080" stroke-width="0.65"/>
<rect x="444.13" y="296.73" width="2.0" height="14.02" fill="#5ee05e" stroke="#2a982a" stroke-width="0.35"/>
<line x1="448.02" x2="448.02" y1="294.78" y2="303.54" stroke="#808080" stroke-width="0.65"/>
<rect x="447.02" y="296.34" width="2.0" height="0.90" fill="#5ee05e" stroke="#2a982a" stroke-width="0.35"/>
<line x1="450.91" x2="450.91" y1="288.94" y2="301.60" stroke="#808080" stroke-width="0.65"/>
<rect x="449.91" y="289.91" width="2.0" height="8.76" fill="#5ee05e" stroke="#2a982a" stroke-width="0.35"/>
<line x1="453.81" x2="453.81" y1="289.91" y2="297.70" stroke="#808080" stroke-width="0.65"/>
<rect x="452.81" y="292.45" width="2.0" height="0.90" fill="#5ee05e" stroke="#2a982a" stroke-width="0.35"/>
<line x1="456.70" x2="456.70" y1="287.38" y2="293.81" stroke="#808080" stroke-width="0.65"/>
<rect x="455.70" y="287.97" width="2.0" height="3.89" fill="#5ee05e" stroke="#2a982a" stroke-width="0.35"/>
<line x1="459.59" x2="459.59" y1="286.99" y2="297.70" stroke="#808080" stroke-width="0.65"/>
<rect x="458.59" y="287.97" width="2.0" height="5.84" fill="#e75c5c" stroke="#b23c3c" stroke-width="0.35"/>
<line x1="462.49" x2="462.49" y1="281.15" y2="294.39" stroke="#808080" stroke-width="0.65"/>
<rect x="461.49" y="282.71" width="2.0" height="11.10" fill="#5ee05e" stroke="#2a982a" stroke-width="0.35"/>
<line x1="465.38" x2="465.38" y1="279.21" y2="290.89" stroke="#808080" stroke-width="0.65"/>
<rect x="464.38" y="283.68" width="2.0" height="0.90" fill="#5ee05e" stroke="#2a982a" stroke-width="0.35"/>
<line x1="468.27" x2="468.27" y1="283.49" y2="289.91" stroke="#808080" stroke-width="0.65"/>
<rect x="467.27" y="285.05" width="2.0" height="1.17" fill="#e75c5c" stroke="#b23c3c" stroke-width="0.35"/>
<line x1="471.17" x2="471.17" y1="285.05" y2="299.65" stroke="#808080" stroke-width="0.65"/>
<rect x="470.17" y="286.02" width="2.0" height="10.32" fill="#e75c5c" stroke="#b23c3c" stroke-width="0.35"/>
<line x1="474.06" x2="474.06" y1="295.17" y2="304.13" stroke="#808080" stroke-width="0.65"/>
<rect x="473.06" y="295.76" width="2.0" height="7.79" fill="#e75c5c" stroke="#b23c3c" stroke-width="0.35"/>
<line x1="476.95" x2="476.95" y1="300.23" y2="306.07" stroke="#808080" stroke-width="0.65"/>
<rect x="475.95" y="301.60" width="2.0" height="1.95" fill="#e75c5c" stroke="#b23c3c" stroke-width="0.35"/>
<line x1="479.84" x2="479.84" y1="298.68" y2="305.49" stroke="#808080" stroke-width="0.65"/>
<rect x="478.84" y="299.65" width="2.0" height="4.87" fill="#5ee05e" stroke="#2a982a" stroke-width="0.35"/>
<line x1="482.74" x2="482.74" y1="289.91" y2="301.01" stroke="#808080" stroke-width="0.65"/>
<rect x="481.74" y="291.86" width="2.0" height="7.20" fill="#5ee05e" stroke="#2a982a" stroke-width="0.35"/>
<line x1="485.63" x2="485.63" y1="284.07" y2="293.22" stroke="#808080" stroke-width="0.65"/>
<rect x="484.63" y="289.91" width="2.0" height="1.95" fill="#5ee05e" stroke="#2a982a" stroke-width="0.35"/>
<line x1="488.52" x2="488.52" y1="288.94" y2="296.73" stroke="#808080" stroke-width="0.65"/>
<rect x="487.52" y="290.11" width="2.0" height="0.90" fill="#5ee05e" stroke="#2a982a" stroke-width="0.35"/>
<line x1="491.42" x2="491.42" y1="285.05" y2="297.70" stroke="#808080" stroke-width="0.65"/>
<rect x="490.42" y="286.99" width="2.0" height="9.74" fill="#e75c5c" stroke="#b23c3c" stroke-width="0.35"/>
<line x1="494.31" x2="494.31" y1="288.55" y2="302.96" stroke="#808080" stroke-width="0.65"/>
<rect x="493.31" y="289.33" width="2.0" height="8.37" fill="#5ee05e" stroke="#2a982a" stroke-width="0.35"/>
<line x1="497.20" x2="497.20" y1="286.60" y2="295.76" stroke="#808080" stroke-width="0.65"/>
<rect x="496.20" y="287.38" width="2.0" height="2.53" fill="#5ee05e" stroke="#2a982a" stroke-width="0.35"/>
<line x1="500.10" x2="500.10" y1="278.82" y2="287.97" stroke="#808080" stroke-width="0.65"/>
<rect x="499.10" y="279.60" width="2.0" height="7.40" fill="#5ee05e" stroke="#2a982a" stroke-width="0.35"/>
<line x1="502.99" x2="502.99" y1="279.21" y2="283.49" stroke="#808080" stroke-width="0.65"/>
<rect x="501.99" y="280.18" width="2.0" height="1.95" fill="#e75c5c" stroke="#b23c3c" stroke-width="0.35"/>
<line x1="505.88" x2="505.88" y1="271.03" y2="286.99" stroke="#808080" stroke-width="0.65"/>
<rect x="504.88" y="274.92" width="2.0" height="7.79" fill="#5ee05e" stroke="#2a982a" stroke-width="0.35"/>
<line x1="508.77" x2="508.77" y1="273.75" y2="278.82" stroke="#808080" stroke-width="0.65"/>
<rect x="507.77" y="274.92" width="2.0" height="0.90" fill="#5ee05e" stroke="#2a982a" stroke-width="0.35"/>
<line x1="511.67" x2="511.67" y1="272.98" y2="275.70" stroke="#808080" stroke-width="0.65"/>
<rect x="510.67" y="273.95" width="2.0" height="0.90" fill="#5ee05e" stroke="#2a982a" stroke-width="0.35"/>
<line x1="514.56" x2="514.56" y1="269.86" y2="275.31" stroke="#808080" stroke-width="0.65"/>
<rect x="513.56" y="272.39" width="2.0" height="1.95" fill="#5ee05e" stroke="#2a982a" stroke-width="0.35"/>
<line x1="517.45" x2="517.45" y1="270.44" y2="276.29" stroke="#808080" stroke-width="0.65"/>
<rect x="516.45" y="273.36" width="2.0" height="1.56" fill="#e75c5c" stroke="#b23c3c" stroke-width="0.35"/>
<line x1="520.35" x2="520.35" y1="272.98" y2="279.60" stroke="#808080" stroke-width="0.65"/>
<rect x="519.35" y="275.31" width="2.0" height="1.95" fill="#e75c5c" stroke="#b23c3c" stroke-width="0.35"/>
<line x1="523.24" x2="523.24" y1="271.81" y2="280.18" stroke="#808080" stroke-width="0.65"/>
<rect x="522.24" y="276.29" width="2.0" height="2.92" fill="#e75c5c" stroke="#b23c3c" stroke-width="0.35"/>
<line x1="526.13" x2="526.13" y1="275.31" y2="282.13" stroke="#808080" stroke-width="0.65"/>
<rect x="525.13" y="276.29" width="2.0" height="4.87" fill="#5ee05e" stroke="#2a982a" stroke-width="0.35"/>
<line x1="529.03" x2="529.03" y1="271.42" y2="277.26" stroke="#808080" stroke-width="0.65"/>
<rect x="528.03" y="274.92" width="2.0" height="1.95" fill="#5ee05e" stroke="#2a982a" stroke-width="0.35"/>
<line x1="531.92" x2="531.92" y1="260.62" y2="277.17" stroke="#808080" stroke-width="0.65"/>
<rect x="530.92" y="261.60" width="2.0" height="14.60" fill="#5ee05e" stroke="#2a982a" stroke-width="0.35"/>
<line x1="534.81" x2="534.81" y1="257.70" y2="263.54" stroke="#808080" stroke-width="0.65"/>
<rect x="533.81" y="261.21" width="2.0" height="0.90" fill="#e75c5c" stroke="#b23c3c" stroke-width="0.35"/>
<line x1="537.70" x2="537.70" y1="259.65" y2="264.52" stroke="#808080" stroke-width="0.65"/>
<rect x="536.70" y="261.60" width="2.0" height="1.95" fill="#e75c5c" stroke="#b23c3c" stroke-width="0.35"/>
<line x1="540.60" x2="540.60" y1="262.96" y2="268.41" stroke="#808080" stroke-width="0.65"/>
<rect x="539.60" y="264.13" width="2.0" height="2.73" fill="#e75c5c" stroke="#b23c3c" stroke-width="0.35"/>
<line x1="543.49" x2="543.49" y1="249.91" y2="273.86" stroke="#808080" stroke-width="0.65"/>
<rect x="542.49" y="266.85" width="2.0" height="5.45" fill="#e75c5c" stroke="#b23c3c" stroke-width="0.35"/>
<line x1="546.38" x2="546.38" y1="270.75" y2="280.09" stroke="#808080" stroke-width="0.65"/>
<rect x="545.38" y="271.92" width="2.0" height="5.84" fill="#e75c5c" stroke="#b23c3c" stroke-width="0.35"/>
<line x1="549.28" x2="549.28" y1="247.97" y2="274.25" stroke="#808080" stroke-width="0.65"/>
<rect x="548.28" y="250.89" width="2.0" height="22.39" fill="#5ee05e" stroke="#2a982a" stroke-width="0.35"/>
<line x1="552.17" x2="552.17" y1="247.97" y2="253.81" stroke="#808080" stroke-width="0.65"/>
<rect x="551.17" y="249.33" width="2.0" height="3.50" fill="#e75c5c" stroke="#b23c3c" stroke-width="0.35"/>
<line x1="555.06" x2="555.06" y1="243.10" y2="252.83" stroke="#808080" stroke-width="0.65"/>
<rect x="554.06" y="245.05" width="2.0" height="6.81" fill="#5ee05e" stroke="#2a982a" stroke-width="0.35"/>
<line x1="557.96" x2="557.96" y1="241.54" y2="247.97" stroke="#808080" stroke-width="0.65"/>
<rect x="556.96" y="245.63" width="2.0" height="0.90" fill="#e75c5c" stroke="#b23c3c" stroke-width="0.35"/>
<line x1="560.85" x2="560.85" y1="241.15" y2="248.94" stroke="#808080" stroke-width="0.65"/>
<rect x="559.85" y="245.05" width="2.0" height="0.90" fill="#e75c5c" stroke="#b23c3c" stroke-width="0.35"/>
<line x1="563.74" x2="563.74" y1="243.49" y2="252.83" stroke="#808080" stroke-width="0.65"/>
<rect x="562.74" y="244.07" width="2.0" height="7.79" fill="#e75c5c" stroke="#b23c3c" stroke-width="0.35"/>
<line x1="566.63" x2="566.63" y1="246.02" y2="256.73" stroke="#808080" stroke-width="0.65"/>
<rect x="565.63" y="248.94" width="2.0" height="1.56" fill="#5ee05e" stroke="#2a982a" stroke-width="0.35"/>
<line x1="569.53" x2="569.53" y1="246.99" y2="252.83" stroke="#808080" stroke-width="0.65"/>
<rect x="568.53" y="248.55" width="2.0" height="3.31" fill="#e75c5c" stroke="#b23c3c" stroke-width="0.35"/>
<line x1="572.42" x2="572.42" y1="246.02" y2="252.83" stroke="#808080" stroke-width="0.65"/>
<rect x="571.42" y="250.89" width="2.0" height="0.90" fill="#5ee05e" stroke="#2a982a" stroke-width="0.35"/>
<line x1="575.31" x2="575.31" y1="247.38" y2="253.81" stroke="#808080" stroke-width="0.65"/>
<rect x="574.31" y="248.55" width="2.0" height="0.90" fill="#5ee05e" stroke="#2a982a" stroke-width="0.35"/>
<line x1="578.21" x2="578.21" y1="246.99" y2="251.86" stroke="#808080" stroke-width="0.65"/>
<rect x="577.21" y="248.16" width="2.0" height="0.90" fill="#5ee05e" stroke="#2a982a" stroke-width="0.35"/>
<line x1="581.10" x2="581.10" y1="236.29" y2="249.33" stroke="#808080" stroke-width="0.65"/>
<rect x="580.10" y="238.23" width="2.0" height="10.32" fill="#5ee05e" stroke="#2a982a" stroke-width="0.35"/>
<line x1="583.99" x2="583.99" y1="237.26" y2="251.86" stroke="#808080" stroke-width="0.65"/>
<rect x="582.99" y="238.23" width="2.0" height="12.66" fill="#e75c5c" stroke="#b23c3c" stroke-width="0.35"/>
<line x1="586.89" x2="586.89" y1="242.13" y2="252.83" stroke="#808080" stroke-width="0.65"/>
<rect x="585.89" y="243.10" width="2.0" height="8.18" fill="#5ee05e" stroke="#2a982a" stroke-width="0.35"/>
<line x1="589.78" x2="589.78" y1="237.26" y2="251.86" stroke="#808080" stroke-width="0.65"/>
<rect x="588.78" y="238.23" width="2.0" height="5.26" fill="#5ee05e" stroke="#2a982a" stroke-width="0.35"/>
<line x1="592.67" x2="592.67" y1="236.29" y2="250.89" stroke="#808080" stroke-width="0.65"/>
<rect x="591.67" y="240.18" width="2.0" height="5.84" fill="#e75c5c" stroke="#b23c3c" stroke-width="0.35"/>
<line x1="595.56" x2="595.56" y1="238.23" y2="251.86" stroke="#808080" stroke-width="0.65"/>
<rect x="594.56" y="246.60" width="2.0" height="0.90" fill="#5ee05e" stroke="#2a982a" stroke-width="0.35"/>
<line x1="598.46" x2="598.46" y1="244.07" y2="257.70" stroke="#808080" stroke-width="0.65"/>
<rect x="597.46" y="246.99" width="2.0" height="5.84" fill="#e75c5c" stroke="#b23c3c" stroke-width="0.35"/>
<line x1="601.35" x2="601.35" y1="246.99" y2="256.73" stroke="#808080" stroke-width="0.65"/>
<rect x="600.35" y="251.47" width="2.0" height="0.90" fill="#5ee05e" stroke="#2a982a" stroke-width="0.35"/>
<line x1="604.24" x2="604.24" y1="246.02" y2="255.76" stroke="#808080" stroke-width="0.65"/>
<rect x="603.24" y="251.86" width="2.0" height="1.36" fill="#e75c5c" stroke="#b23c3c" stroke-width="0.35"/>
<line x1="607.14" x2="607.14" y1="250.89" y2="257.70" stroke="#808080" stroke-width="0.65"/>
<rect x="606.14" y="251.86" width="2.0" height="3.89" fill="#5ee05e" stroke="#2a982a" stroke-width="0.35"/>
<line x1="610.03" x2="610.03" y1="243.10" y2="256.73" stroke="#808080" stroke-width="0.65"/>
<rect x="609.03" y="245.44" width="2.0" height="6.43" fill="#5ee05e" stroke="#2a982a" stroke-width="0.35"/>
<line x1="612.92" x2="612.92" y1="240.18" y2="252.83" stroke="#808080" stroke-width="0.65"/>
<rect x="611.92" y="245.05" width="2.0" height="6.81" fill="#e75c5c" stroke="#b23c3c" stroke-width="0.35"/>
<line x1="615.82" x2="615.82" y1="245.05" y2="251.86" stroke="#808080" stroke-width="0.65"/>
<rect x="614.82" y="248.55" width="2.0" height="0.90" fill="#5ee05e" stroke="#2a982a" stroke-width="0.35"/>
<line x1="618.71" x2="618.71" y1="222.28" y2="247.95" stroke="#808080" stroke-width="0.65"/>
<rect x="617.71" y="230.46" width="2.0" height="15.97" fill="#5ee05e" stroke="#2a982a" stroke-width="0.35"/>
<line x1="621.60" x2="621.60" y1="228.56" y2="239.39" stroke="#808080" stroke-width="0.65"/>
<rect x="620.60" y="229.32" width="2.0" height="7.22" fill="#e75c5c" stroke="#b23c3c" stroke-width="0.35"/>
<line x1="624.50" x2="624.50" y1="233.69" y2="240.34" stroke="#808080" stroke-width="0.65"/>
<rect x="623.50" y="234.26" width="2.0" height="0.90" fill="#5ee05e" stroke="#2a982a" stroke-width="0.35"/>
<line x1="627.39" x2="627.39" y1="228.94" y2="239.39" stroke="#808080" stroke-width="0.65"/>
<rect x="626.39" y="230.46" width="2.0" height="3.23" fill="#5ee05e" stroke="#2a982a" stroke-width="0.35"/>
<line x1="630.28" x2="630.28" y1="222.85" y2="231.22" stroke="#808080" stroke-width="0.65"/>
<rect x="629.28" y="223.61" width="2.0" height="6.84" fill="#5ee05e" stroke="#2a982a" stroke-width="0.35"/>
<line x1="633.17" x2="633.17" y1="221.71" y2="224.18" stroke="#808080" stroke-width="0.65"/>
<rect x="632.17" y="222.47" width="2.0" height="0.90" fill="#5ee05e" stroke="#2a982a" stroke-width="0.35"/>
<line x1="636.07" x2="636.07" y1="219.81" y2="230.84" stroke="#808080" stroke-width="0.65"/>
<rect x="635.07" y="221.33" width="2.0" height="0.90" fill="#e75c5c" stroke="#b23c3c" stroke-width="0.35"/>
<line x1="638.96" x2="638.96" y1="217.53" y2="223.23" stroke="#808080" stroke-width="0.65"/>
<rect x="637.96" y="218.48" width="2.0" height="3.80" fill="#5ee05e" stroke="#2a982a" stroke-width="0.35"/>
<line x1="641.85" x2="641.85" y1="216.58" y2="230.46" stroke="#808080" stroke-width="0.65"/>
<rect x="640.85" y="217.53" width="2.0" height="9.13" fill="#e75c5c" stroke="#b23c3c" stroke-width="0.35"/>
<line x1="644.75" x2="644.75" y1="217.53" y2="227.98" stroke="#808080" stroke-width="0.65"/>
<rect x="643.75" y="218.48" width="2.0" height="8.17" fill="#5ee05e" stroke="#2a982a" stroke-width="0.35"/>
<line x1="647.64" x2="647.64" y1="218.48" y2="222.28" stroke="#808080" stroke-width="0.65"/>
<rect x="646.64" y="220.00" width="2.0" height="0.90" fill="#5ee05e" stroke="#2a982a" stroke-width="0.35"/>
<line x1="650.53" x2="650.53" y1="213.35" y2="220.95" stroke="#808080" stroke-width="0.65"/>
<rect x="649.53" y="215.63" width="2.0" height="4.18" fill="#5ee05e" stroke="#2a982a" stroke-width="0.35"/>
<line x1="653.42" x2="653.42" y1="213.73" y2="225.13" stroke="#808080" stroke-width="0.65"/>
<rect x="652.42" y="214.68" width="2.0" height="5.13" fill="#e75c5c" stroke="#b23c3c" stroke-width="0.35"/>
<line x1="656.32" x2="656.32" y1="202.32" y2="220.38" stroke="#808080" stroke-width="0.65"/>
<rect x="655.32" y="203.27" width="2.0" height="16.54" fill="#5ee05e" stroke="#2a982a" stroke-width="0.35"/>
<line x1="659.21" x2="659.21" y1="202.70" y2="208.02" stroke="#808080" stroke-width="0.65"/>
<rect x="658.21" y="203.84" width="2.0" height="0.90" fill="#5ee05e" stroke="#2a982a" stroke-width="0.35"/>
<line x1="662.10" x2="662.10" y1="202.70" y2="207.07" stroke="#808080" stroke-width="0.65"/>
<rect x="661.10" y="203.84" width="2.0" height="2.66" fill="#e75c5c" stroke="#b23c3c" stroke-width="0.35"/>
<line x1="665.00" x2="665.00" y1="202.32" y2="207.07" stroke="#808080" stroke-width="0.65"/>
<rect x="664.00" y="204.22" width="2.0" height="1.52" fill="#5ee05e" stroke="#2a982a" stroke-width="0.35"/>
<line x1="667.89" x2="667.89" y1="198.52" y2="205.17" stroke="#808080" stroke-width="0.65"/>
<rect x="666.89" y="200.80" width="2.0" height="3.42" fill="#5ee05e" stroke="#2a982a" stroke-width="0.35"/>
<line x1="670.78" x2="670.78" y1="193.19" y2="204.22" stroke="#808080" stroke-width="0.65"/>
<rect x="669.78" y="194.33" width="2.0" height="6.46" fill="#5ee05e" stroke="#2a982a" stroke-width="0.35"/>
<line x1="673.68" x2="673.68" y1="192.81" y2="196.62" stroke="#808080" stroke-width="0.65"/>
<rect x="672.68" y="194.33" width="2.0" height="1.33" fill="#e75c5c" stroke="#b23c3c" stroke-width="0.35"/>
<line x1="676.57" x2="676.57" y1="186.73" y2="193.19" stroke="#808080" stroke-width="0.65"/>
<rect x="675.57" y="187.49" width="2.0" height="4.94" fill="#5ee05e" stroke="#2a982a" stroke-width="0.35"/>
<line x1="679.46" x2="679.46" y1="177.60" y2="196.24" stroke="#808080" stroke-width="0.65"/>
<rect x="678.46" y="180.46" width="2.0" height="2.85" fill="#5ee05e" stroke="#2a982a" stroke-width="0.35"/>
<line x1="682.35" x2="682.35" y1="175.32" y2="182.36" stroke="#808080" stroke-width="0.65"/>
<rect x="681.35" y="180.08" width="2.0" height="0.90" fill="#5ee05e" stroke="#2a982a" stroke-width="0.35"/>
<line x1="685.25" x2="685.25" y1="173.80" y2="182.93" stroke="#808080" stroke-width="0.65"/>
<rect x="684.25" y="174.75" width="2.0" height="5.13" fill="#5ee05e" stroke="#2a982a" stroke-width="0.35"/>
<line x1="688.14" x2="688.14" y1="162.56" y2="173.96" stroke="#808080" stroke-width="0.65"/>
<rect x="687.14" y="165.98" width="2.0" height="6.55" fill="#5ee05e" stroke="#2a982a" stroke-width="0.35"/>
<line x1="691.03" x2="691.03" y1="161.14" y2="166.84" stroke="#808080" stroke-width="0.65"/>
<rect x="690.03" y="163.42" width="2.0" height="1.14" fill="#e75c5c" stroke="#b23c3c" stroke-width="0.35"/>
<line x1="693.93" x2="693.93" y1="141.20" y2="165.41" stroke="#808080" stroke-width="0.65"/>
<rect x="692.93" y="150.60" width="2.0" height="10.54" fill="#5ee05e" stroke="#2a982a" stroke-width="0.35"/>
<line x1="696.82" x2="696.82" y1="148.89" y2="155.44" stroke="#808080" stroke-width="0.65"/>
<rect x="695.82" y="150.60" width="2.0" height="1.99" fill="#e75c5c" stroke="#b23c3c" stroke-width="0.35"/>
<line x1="699.71" x2="699.71" y1="145.47" y2="158.29" stroke="#808080" stroke-width="0.65"/>
<rect x="698.71" y="152.59" width="2.0" height="1.14" fill="#5ee05e" stroke="#2a982a" stroke-width="0.35"/>
<line x1="702.61" x2="702.61" y1="149.74" y2="158.29" stroke="#808080" stroke-width="0.65"/>
<rect x="701.61" y="151.74" width="2.0" height="2.28" fill="#e75c5c" stroke="#b23c3c" stroke-width="0.35"/>
<line x1="705.50" x2="705.50" y1="146.89" y2="156.30" stroke="#808080" stroke-width="0.65"/>
<rect x="704.50" y="151.17" width="2.0" height="3.42" fill="#5ee05e" stroke="#2a982a" stroke-width="0.35"/>
<line x1="708.39" x2="708.39" y1="139.77" y2="154.02" stroke="#808080" stroke-width="0.65"/>
<rect x="707.39" y="142.05" width="2.0" height="10.54" fill="#5ee05e" stroke="#2a982a" stroke-width="0.35"/>
<line x1="711.28" x2="711.28" y1="132.65" y2="148.89" stroke="#808080" stroke-width="0.65"/>
<rect x="710.28" y="136.35" width="2.0" height="2.85" fill="#5ee05e" stroke="#2a982a" stroke-width="0.35"/>
<line x1="714.18" x2="714.18" y1="124.10" y2="136.92" stroke="#808080" stroke-width="0.65"/>
<rect x="713.18" y="129.80" width="2.0" height="5.70" fill="#5ee05e" stroke="#2a982a" stroke-width="0.35"/>
<line x1="717.07" x2="717.07" y1="108.43" y2="128.38" stroke="#808080" stroke-width="0.65"/>
<rect x="716.07" y="109.86" width="2.0" height="17.09" fill="#5ee05e" stroke="#2a982a" stroke-width="0.35"/>
<line x1="719.96" x2="719.96" y1="102.17" y2="110.71" stroke="#808080" stroke-width="0.65"/>
<rect x="718.96" y="105.01" width="2.0" height="2.85" fill="#5ee05e" stroke="#2a982a" stroke-width="0.35"/>
<line x1="722.86" x2="722.86" y1="94.19" y2="109.86" stroke="#808080" stroke-width="0.65"/>
<rect x="721.86" y="95.61" width="2.0" height="9.97" fill="#5ee05e" stroke="#2a982a" stroke-width="0.35"/>
<line x1="725.75" x2="725.75" y1="72.82" y2="94.19" stroke="#808080" stroke-width="0.65"/>
<rect x="724.75" y="75.67" width="2.0" height="17.09" fill="#5ee05e" stroke="#2a982a" stroke-width="0.35"/>
<line x1="728.64" x2="728.64" y1="69.97" y2="82.79" stroke="#808080" stroke-width="0.65"/>
<rect x="727.64" y="74.25" width="2.0" height="1.71" fill="#e75c5c" stroke="#b23c3c" stroke-width="0.35"/>
</g>
<!-- pattern lines -->
<g stroke="#3596ee" stroke-width="1.25" fill="none" stroke-linejoin="round" stroke-linecap="round">
<polyline points="11,280 196.3,208.3 234,251 251.3,220.4 429.7,327"/>
<line x1="11" y1="280" x2="234" y2="251"/>
<line x1="234" y1="251" x2="429.7" y2="327"/>
</g>
<g font-weight="bold" fill="#2e90ea" text-anchor="middle" font-size="9.2">
<text x="11.2" y="293.3">X</text>
<text x="196.7" y="202.2">A</text>
<text x="234" y="264.2">B</text>
<text x="251.5" y="213.2">C</text>
<text x="430.6" y="340">D</text>
<text x="222.2" y="341.3" font-size="9.2">Bullish Crab</text>
</g>
<text x="0.5" y="344.2" font-size="5.1" fill="#222">IT-Finance.com - Temps Réel</text>
<g id="vol" filter="url(#bl)">
<rect x="1.40" y="391.54" width="2.2" height="20.66" fill="#e75c5c" stroke="#b23c3c" stroke-width="0.35"/>
<rect x="4.29" y="374.23" width="2.2" height="37.97" fill="#e75c5c" stroke="#b23c3c" stroke-width="0.35"/>
<rect x="7.19" y="377.12" width="2.2" height="35.08" fill="#5ee05e" stroke="#2a982a" stroke-width="0.35"/>
<rect x="10.08" y="372.31" width="2.2" height="39.89" fill="#e75c5c" stroke="#b23c3c" stroke-width="0.35"/>
<rect x="12.97" y="360.77" width="2.2" height="51.43" fill="#5ee05e" stroke="#2a982a" stroke-width="0.35"/>
<rect x="15.87" y="369.81" width="2.2" height="42.39" fill="#5ee05e" stroke="#2a982a" stroke-width="0.35"/>
<rect x="18.76" y="375.58" width="2.2" height="36.62" fill="#5ee05e" stroke="#2a982a" stroke-width="0.35"/>
<rect x="21.65" y="379.04" width="2.2" height="33.16" fill="#e75c5c" stroke="#b23c3c" stroke-width="0.35"/>
<rect x="24.54" y="385.19" width="2.2" height="27.01" fill="#e75c5c" stroke="#b23c3c" stroke-width="0.35"/>
<rect x="27.44" y="394.23" width="2.2" height="17.97" fill="#e75c5c" stroke="#b23c3c" stroke-width="0.35"/>
<rect x="30.33" y="381.92" width="2.2" height="30.28" fill="#e75c5c" stroke="#b23c3c" stroke-width="0.35"/>
<rect x="33.22" y="387.12" width="2.2" height="25.08" fill="#e75c5c" stroke="#b23c3c" stroke-width="0.35"/>
<rect x="36.12" y="383.27" width="2.2" height="28.93" fill="#e75c5c" stroke="#b23c3c" stroke-width="0.35"/>
<rect x="39.01" y="382.69" width="2.2" height="29.51" fill="#5ee05e" stroke="#2a982a" stroke-width="0.35"/>
<rect x="41.90" y="396.92" width="2.2" height="15.28" fill="#e75c5c" stroke="#b23c3c" stroke-width="0.35"/>
<rect x="44.79" y="386.15" width="2.2" height="26.05" fill="#5ee05e" stroke="#2a982a" stroke-width="0.35"/>
<rect x="47.69" y="376.15" width="2.2" height="36.05" fill="#e75c5c" stroke="#b23c3c" stroke-width="0.35"/>
<rect x="50.58" y="367.88" width="2.2" height="44.32" fill="#e75c5c" stroke="#b23c3c" stroke-width="0.35"/>
<rect x="53.47" y="383.27" width="2.2" height="28.93" fill="#5ee05e" stroke="#2a982a" stroke-width="0.35"/>
<rect x="56.37" y="389.04" width="2.2" height="23.16" fill="#5ee05e" stroke="#2a982a" stroke-width="0.35"/>
<rect x="59.26" y="385.19" width="2.2" height="27.01" fill="#5ee05e" stroke="#2a982a" stroke-width="0.35"/>
<rect x="62.15" y="392.31" width="2.2" height="19.89" fill="#e75c5c" stroke="#b23c3c" stroke-width="0.35"/>
<rect x="65.05" y="390.96" width="2.2" height="21.24" fill="#e75c5c" stroke="#b23c3c" stroke-width="0.35"/>
<rect x="67.94" y="393.85" width="2.2" height="18.35" fill="#5ee05e" stroke="#2a982a" stroke-width="0.35"/>
<rect x="70.83" y="389.04" width="2.2" height="23.16" fill="#5ee05e" stroke="#2a982a" stroke-width="0.35"/>
<rect x="73.72" y="385.19" width="2.2" height="27.01" fill="#e75c5c" stroke="#b23c3c" stroke-width="0.35"/>
<rect x="76.62" y="393.85" width="2.2" height="18.35" fill="#e75c5c" stroke="#b23c3c" stroke-width="0.35"/>
<rect x="79.51" y="392.88" width="2.2" height="19.32" fill="#5ee05e" stroke="#2a982a" stroke-width="0.35"/>
<rect x="82.40" y="390.96" width="2.2" height="21.24" fill="#5ee05e" stroke="#2a982a" stroke-width="0.35"/>
<rect x="85.30" y="390.38" width="2.2" height="21.82" fill="#5ee05e" stroke="#2a982a" stroke-width="0.35"/>
<rect x="88.19" y="365.38" width="2.2" height="46.82" fill="#e75c5c" stroke="#b23c3c" stroke-width="0.35"/>
<rect x="91.08" y="389.04" width="2.2" height="23.16" fill="#e75c5c" stroke="#b23c3c" stroke-width="0.35"/>
<rect x="93.98" y="390.96" width="2.2" height="21.24" fill="#5ee05e" stroke="#2a982a" stroke-width="0.35"/>
<rect x="96.87" y="394.23" width="2.2" height="17.97" fill="#e75c5c" stroke="#b23c3c" stroke-width="0.35"/>
<rect x="99.76" y="384.62" width="2.2" height="27.58" fill="#e75c5c" stroke="#b23c3c" stroke-width="0.35"/>
<rect x="102.66" y="396.35" width="2.2" height="15.85" fill="#5ee05e" stroke="#2a982a" stroke-width="0.35"/>
<rect x="105.55" y="389.62" width="2.2" height="22.58" fill="#5ee05e" stroke="#2a982a" stroke-width="0.35"/>
<rect x="108.44" y="388.46" width="2.2" height="23.74" fill="#5ee05e" stroke="#2a982a" stroke-width="0.35"/>
<rect x="111.33" y="384.23" width="2.2" height="27.97" fill="#5ee05e" stroke="#2a982a" stroke-width="0.35"/>
<rect x="114.23" y="396.35" width="2.2" height="15.85" fill="#5ee05e" stroke="#2a982a" stroke-width="0.35"/>
<rect x="117.12" y="399.04" width="2.2" height="13.16" fill="#e75c5c" stroke="#b23c3c" stroke-width="0.35"/>
<rect x="120.01" y="390.00" width="2.2" height="22.20" fill="#5ee05e" stroke="#2a982a" stroke-width="0.35"/>
<rect x="122.91" y="383.85" width="2.2" height="28.35" fill="#5ee05e" stroke="#2a982a" stroke-width="0.35"/>
<rect x="125.80" y="389.23" width="2.2" height="22.97" fill="#e75c5c" stroke="#b23c3c" stroke-width="0.35"/>
<rect x="128.69" y="351.15" width="2.2" height="61.05" fill="#5ee05e" stroke="#2a982a" stroke-width="0.35"/>
<rect x="131.59" y="378.46" width="2.2" height="33.74" fill="#5ee05e" stroke="#2a982a" stroke-width="0.35"/>
<rect x="134.48" y="388.08" width="2.2" height="24.12" fill="#5ee05e" stroke="#2a982a" stroke-width="0.35"/>
<rect x="137.37" y="391.92" width="2.2" height="20.28" fill="#5ee05e" stroke="#2a982a" stroke-width="0.35"/>
<rect x="140.26" y="390.96" width="2.2" height="21.24" fill="#e75c5c" stroke="#b23c3c" stroke-width="0.35"/>
<rect x="143.16" y="387.12" width="2.2" height="25.08" fill="#5ee05e" stroke="#2a982a" stroke-width="0.35"/>
<rect x="146.05" y="389.04" width="2.2" height="23.16" fill="#e75c5c" stroke="#b23c3c" stroke-width="0.35"/>
<rect x="148.94" y="389.23" width="2.2" height="22.97" fill="#5ee05e" stroke="#2a982a" stroke-width="0.35"/>
<rect x="151.84" y="385.19" width="2.2" height="27.01" fill="#5ee05e" stroke="#2a982a" stroke-width="0.35"/>
<rect x="154.73" y="380.00" width="2.2" height="32.20" fill="#5ee05e" stroke="#2a982a" stroke-width="0.35"/>
<rect x="157.62" y="388.08" width="2.2" height="24.12" fill="#5ee05e" stroke="#2a982a" stroke-width="0.35"/>
<rect x="160.51" y="396.15" width="2.2" height="16.05" fill="#5ee05e" stroke="#2a982a" stroke-width="0.35"/>
<rect x="163.41" y="386.15" width="2.2" height="26.05" fill="#5ee05e" stroke="#2a982a" stroke-width="0.35"/>
<rect x="166.30" y="395.19" width="2.2" height="17.01" fill="#5ee05e" stroke="#2a982a" stroke-width="0.35"/>
<rect x="169.19" y="399.04" width="2.2" height="13.16" fill="#e75c5c" stroke="#b23c3c" stroke-width="0.35"/>
<rect x="172.09" y="394.42" width="2.2" height="17.78" fill="#5ee05e" stroke="#2a982a" stroke-width="0.35"/>
<rect x="174.98" y="390.00" width="2.2" height="22.20" fill="#e75c5c" stroke="#b23c3c" stroke-width="0.35"/>
<rect x="177.87" y="398.08" width="2.2" height="14.12" fill="#e75c5c" stroke="#b23c3c" stroke-width="0.35"/>
<rect x="180.77" y="394.42" width="2.2" height="17.78" fill="#5ee05e" stroke="#2a982a" stroke-width="0.35"/>
<rect x="183.66" y="397.12" width="2.2" height="15.08" fill="#e75c5c" stroke="#b23c3c" stroke-width="0.35"/>
<rect x="186.55" y="397.69" width="2.2" height="14.51" fill="#5ee05e" stroke="#2a982a" stroke-width="0.35"/>
<rect x="189.44" y="401.15" width="2.2" height="11.05" fill="#e75c5c" stroke="#b23c3c" stroke-width="0.35"/>
<rect x="192.34" y="405.00" width="2.2" height="7.20" fill="#5ee05e" stroke="#2a982a" stroke-width="0.35"/>
<rect x="195.23" y="403.08" width="2.2" height="9.12" fill="#e75c5c" stroke="#b23c3c" stroke-width="0.35"/>
<rect x="198.12" y="400.00" width="2.2" height="12.20" fill="#5ee05e" stroke="#2a982a" stroke-width="0.35"/>
<rect x="201.02" y="392.88" width="2.2" height="19.32" fill="#e75c5c" stroke="#b23c3c" stroke-width="0.35"/>
<rect x="203.91" y="385.19" width="2.2" height="27.01" fill="#e75c5c" stroke="#b23c3c" stroke-width="0.35"/>
<rect x="206.80" y="391.54" width="2.2" height="20.66" fill="#5ee05e" stroke="#2a982a" stroke-width="0.35"/>
<rect x="209.70" y="395.38" width="2.2" height="16.82" fill="#5ee05e" stroke="#2a982a" stroke-width="0.35"/>
<rect x="212.59" y="396.35" width="2.2" height="15.85" fill="#5ee05e" stroke="#2a982a" stroke-width="0.35"/>
<rect x="215.48" y="399.04" width="2.2" height="13.16" fill="#5ee05e" stroke="#2a982a" stroke-width="0.35"/>
<rect x="218.38" y="398.65" width="2.2" height="13.55" fill="#e75c5c" stroke="#b23c3c" stroke-width="0.35"/>
<rect x="221.27" y="390.00" width="2.2" height="22.20" fill="#e75c5c" stroke="#b23c3c" stroke-width="0.35"/>
<rect x="224.16" y="386.15" width="2.2" height="26.05" fill="#e75c5c" stroke="#b23c3c" stroke-width="0.35"/>
<rect x="227.05" y="390.00" width="2.2" height="22.20" fill="#e75c5c" stroke="#b23c3c" stroke-width="0.35"/>
<rect x="229.95" y="394.23" width="2.2" height="17.97" fill="#e75c5c" stroke="#b23c3c" stroke-width="0.35"/>
<rect x="232.84" y="385.58" width="2.2" height="26.62" fill="#e75c5c" stroke="#b23c3c" stroke-width="0.35"/>
<rect x="235.73" y="378.08" width="2.2" height="34.12" fill="#5ee05e" stroke="#2a982a" stroke-width="0.35"/>
<rect x="238.63" y="386.54" width="2.2" height="25.66" fill="#5ee05e" stroke="#2a982a" stroke-width="0.35"/>
<rect x="241.52" y="393.27" width="2.2" height="18.93" fill="#5ee05e" stroke="#2a982a" stroke-width="0.35"/>
<rect x="244.41" y="394.81" width="2.2" height="17.39" fill="#5ee05e" stroke="#2a982a" stroke-width="0.35"/>
<rect x="247.30" y="399.04" width="2.2" height="13.16" fill="#e75c5c" stroke="#b23c3c" stroke-width="0.35"/>
<rect x="250.20" y="391.92" width="2.2" height="20.28" fill="#5ee05e" stroke="#2a982a" stroke-width="0.35"/>
<rect x="253.09" y="398.65" width="2.2" height="13.55" fill="#e75c5c" stroke="#b23c3c" stroke-width="0.35"/>
<rect x="255.98" y="390.00" width="2.2" height="22.20" fill="#e75c5c" stroke="#b23c3c" stroke-width="0.35"/>
<rect x="258.88" y="379.42" width="2.2" height="32.78" fill="#e75c5c" stroke="#b23c3c" stroke-width="0.35"/>
<rect x="261.77" y="376.15" width="2.2" height="36.05" fill="#5ee05e" stroke="#2a982a" stroke-width="0.35"/>
<rect x="264.66" y="401.54" width="2.2" height="10.66" fill="#5ee05e" stroke="#2a982a" stroke-width="0.35"/>
<rect x="267.56" y="401.54" width="2.2" height="10.66" fill="#e75c5c" stroke="#b23c3c" stroke-width="0.35"/>
<rect x="270.45" y="376.15" width="2.2" height="36.05" fill="#e75c5c" stroke="#b23c3c" stroke-width="0.35"/>
<rect x="273.34" y="382.31" width="2.2" height="29.89" fill="#e75c5c" stroke="#b23c3c" stroke-width="0.35"/>
<rect x="276.23" y="390.96" width="2.2" height="21.24" fill="#5ee05e" stroke="#2a982a" stroke-width="0.35"/>
<rect x="279.13" y="351.92" width="2.2" height="60.28" fill="#e75c5c" stroke="#b23c3c" stroke-width="0.35"/>
<rect x="282.02" y="375.19" width="2.2" height="37.01" fill="#5ee05e" stroke="#2a982a" stroke-width="0.35"/>
<rect x="284.91" y="385.19" width="2.2" height="27.01" fill="#5ee05e" stroke="#2a982a" stroke-width="0.35"/>
<rect x="287.81" y="395.38" width="2.2" height="16.82" fill="#e75c5c" stroke="#b23c3c" stroke-width="0.35"/>
<rect x="290.70" y="392.88" width="2.2" height="19.32" fill="#e75c5c" stroke="#b23c3c" stroke-width="0.35"/>
<rect x="293.59" y="384.23" width="2.2" height="27.97" fill="#e75c5c" stroke="#b23c3c" stroke-width="0.35"/>
<rect x="296.49" y="389.04" width="2.2" height="23.16" fill="#e75c5c" stroke="#b23c3c" stroke-width="0.35"/>
<rect x="299.38" y="379.04" width="2.2" height="33.16" fill="#5ee05e" stroke="#2a982a" stroke-width="0.35"/>
<rect x="302.27" y="390.38" width="2.2" height="21.82" fill="#e75c5c" stroke="#b23c3c" stroke-width="0.35"/>
<rect x="305.16" y="398.08" width="2.2" height="14.12" fill="#5ee05e" stroke="#2a982a" stroke-width="0.35"/>
<rect x="308.06" y="390.96" width="2.2" height="21.24" fill="#5ee05e" stroke="#2a982a" stroke-width="0.35"/>
<rect x="310.95" y="382.88" width="2.2" height="29.32" fill="#5ee05e" stroke="#2a982a" stroke-width="0.35"/>
<rect x="313.84" y="375.19" width="2.2" height="37.01" fill="#5ee05e" stroke="#2a982a" stroke-width="0.35"/>
<rect x="316.74" y="385.58" width="2.2" height="26.62" fill="#5ee05e" stroke="#2a982a" stroke-width="0.35"/>
<rect x="319.63" y="394.81" width="2.2" height="17.39" fill="#e75c5c" stroke="#b23c3c" stroke-width="0.35"/>
<rect x="322.52" y="394.23" width="2.2" height="17.97" fill="#5ee05e" stroke="#2a982a" stroke-width="0.35"/>
<rect x="325.42" y="391.92" width="2.2" height="20.28" fill="#5ee05e" stroke="#2a982a" stroke-width="0.35"/>
<rect x="328.31" y="397.12" width="2.2" height="15.08" fill="#e75c5c" stroke="#b23c3c" stroke-width="0.35"/>
<rect x="331.20" y="397.12" width="2.2" height="15.08" fill="#e75c5c" stroke="#b23c3c" stroke-width="0.35"/>
<rect x="334.09" y="397.31" width="2.2" height="14.89" fill="#5ee05e" stroke="#2a982a" stroke-width="0.35"/>
<rect x="336.99" y="398.08" width="2.2" height="14.12" fill="#5ee05e" stroke="#2a982a" stroke-width="0.35"/>
<rect x="339.88" y="397.12" width="2.2" height="15.08" fill="#e75c5c" stroke="#b23c3c" stroke-width="0.35"/>
<rect x="342.77" y="397.12" width="2.2" height="15.08" fill="#e75c5c" stroke="#b23c3c" stroke-width="0.35"/>
<rect x="345.67" y="392.31" width="2.2" height="19.89" fill="#e75c5c" stroke="#b23c3c" stroke-width="0.35"/>
<rect x="348.56" y="396.15" width="2.2" height="16.05" fill="#5ee05e" stroke="#2a982a" stroke-width="0.35"/>
<rect x="351.45" y="373.08" width="2.2" height="39.12" fill="#e75c5c" stroke="#b23c3c" stroke-width="0.35"/>
<rect x="354.35" y="365.00" width="2.2" height="47.20" fill="#5ee05e" stroke="#2a982a" stroke-width="0.35"/>
<rect x="357.24" y="387.12" width="2.2" height="25.08" fill="#e75c5c" stroke="#b23c3c" stroke-width="0.35"/>
<rect x="360.13" y="380.38" width="2.2" height="31.82" fill="#5ee05e" stroke="#2a982a" stroke-width="0.35"/>
<rect x="363.02" y="380.96" width="2.2" height="31.24" fill="#e75c5c" stroke="#b23c3c" stroke-width="0.35"/>
<rect x="365.92" y="370.19" width="2.2" height="42.01" fill="#5ee05e" stroke="#2a982a" stroke-width="0.35"/>
<rect x="368.81" y="374.23" width="2.2" height="37.97" fill="#e75c5c" stroke="#b23c3c" stroke-width="0.35"/>
<rect x="371.70" y="391.28" width="2.2" height="20.92" fill="#e75c5c" stroke="#b23c3c" stroke-width="0.35"/>
<rect x="374.60" y="395.40" width="2.2" height="16.80" fill="#e75c5c" stroke="#b23c3c" stroke-width="0.35"/>
<rect x="377.49" y="393.06" width="2.2" height="19.14" fill="#e75c5c" stroke="#b23c3c" stroke-width="0.35"/>
<rect x="380.38" y="396.21" width="2.2" height="15.99" fill="#5ee05e" stroke="#2a982a" stroke-width="0.35"/>
<rect x="383.28" y="396.50" width="2.2" height="15.70" fill="#5ee05e" stroke="#2a982a" stroke-width="0.35"/>
<rect x="386.17" y="388.96" width="2.2" height="23.24" fill="#e75c5c" stroke="#b23c3c" stroke-width="0.35"/>
<rect x="389.06" y="388.25" width="2.2" height="23.95" fill="#5ee05e" stroke="#2a982a" stroke-width="0.35"/>
<rect x="391.95" y="399.35" width="2.2" height="12.85" fill="#5ee05e" stroke="#2a982a" stroke-width="0.35"/>
<rect x="394.85" y="391.57" width="2.2" height="20.63" fill="#5ee05e" stroke="#2a982a" stroke-width="0.35"/>
<rect x="397.74" y="391.23" width="2.2" height="20.97" fill="#e75c5c" stroke="#b23c3c" stroke-width="0.35"/>
<rect x="400.63" y="401.48" width="2.2" height="10.72" fill="#5ee05e" stroke="#2a982a" stroke-width="0.35"/>
<rect x="403.53" y="394.41" width="2.2" height="17.79" fill="#5ee05e" stroke="#2a982a" stroke-width="0.35"/>
<rect x="406.42" y="399.34" width="2.2" height="12.86" fill="#e75c5c" stroke="#b23c3c" stroke-width="0.35"/>
<rect x="409.31" y="394.49" width="2.2" height="17.71" fill="#e75c5c" stroke="#b23c3c" stroke-width="0.35"/>
<rect x="412.21" y="396.68" width="2.2" height="15.52" fill="#e75c5c" stroke="#b23c3c" stroke-width="0.35"/>
<rect x="415.10" y="390.10" width="2.2" height="22.10" fill="#5ee05e" stroke="#2a982a" stroke-width="0.35"/>
<rect x="417.99" y="396.62" width="2.2" height="15.58" fill="#e75c5c" stroke="#b23c3c" stroke-width="0.35"/>
<rect x="420.88" y="399.76" width="2.2" height="12.44" fill="#e75c5c" stroke="#b23c3c" stroke-width="0.35"/>
<rect x="423.78" y="395.12" width="2.2" height="17.08" fill="#e75c5c" stroke="#b23c3c" stroke-width="0.35"/>
<rect x="426.67" y="398.06" width="2.2" height="14.14" fill="#e75c5c" stroke="#b23c3c" stroke-width="0.35"/>
<rect x="429.56" y="397.12" width="2.2" height="15.08" fill="#5ee05e" stroke="#2a982a" stroke-width="0.35"/>
<rect x="432.46" y="388.94" width="2.2" height="23.26" fill="#5ee05e" stroke="#2a982a" stroke-width="0.35"/>
<rect x="435.35" y="398.28" width="2.2" height="13.92" fill="#e75c5c" stroke="#b23c3c" stroke-width="0.35"/>
<rect x="438.24" y="396.03" width="2.2" height="16.17" fill="#5ee05e" stroke="#2a982a" stroke-width="0.35"/>
<rect x="441.14" y="392.13" width="2.2" height="20.07" fill="#5ee05e" stroke="#2a982a" stroke-width="0.35"/>
<rect x="444.03" y="388.49" width="2.2" height="23.71" fill="#5ee05e" stroke="#2a982a" stroke-width="0.35"/>
<rect x="446.92" y="399.73" width="2.2" height="12.47" fill="#5ee05e" stroke="#2a982a" stroke-width="0.35"/>
<rect x="449.81" y="394.44" width="2.2" height="17.76" fill="#5ee05e" stroke="#2a982a" stroke-width="0.35"/>
<rect x="452.71" y="397.75" width="2.2" height="14.45" fill="#5ee05e" stroke="#2a982a" stroke-width="0.35"/>
<rect x="455.60" y="399.91" width="2.2" height="12.29" fill="#5ee05e" stroke="#2a982a" stroke-width="0.35"/>
<rect x="458.49" y="397.69" width="2.2" height="14.51" fill="#e75c5c" stroke="#b23c3c" stroke-width="0.35"/>
<rect x="461.39" y="400.48" width="2.2" height="11.72" fill="#5ee05e" stroke="#2a982a" stroke-width="0.35"/>
<rect x="464.28" y="393.39" width="2.2" height="18.81" fill="#5ee05e" stroke="#2a982a" stroke-width="0.35"/>
<rect x="467.17" y="398.86" width="2.2" height="13.34" fill="#e75c5c" stroke="#b23c3c" stroke-width="0.35"/>
<rect x="470.07" y="394.06" width="2.2" height="18.14" fill="#e75c5c" stroke="#b23c3c" stroke-width="0.35"/>
<rect x="472.96" y="400.67" width="2.2" height="11.53" fill="#e75c5c" stroke="#b23c3c" stroke-width="0.35"/>
<rect x="475.85" y="399.91" width="2.2" height="12.29" fill="#e75c5c" stroke="#b23c3c" stroke-width="0.35"/>
<rect x="478.74" y="389.39" width="2.2" height="22.81" fill="#5ee05e" stroke="#2a982a" stroke-width="0.35"/>
<rect x="481.64" y="389.91" width="2.2" height="22.29" fill="#5ee05e" stroke="#2a982a" stroke-width="0.35"/>
<rect x="484.53" y="391.00" width="2.2" height="21.20" fill="#5ee05e" stroke="#2a982a" stroke-width="0.35"/>
<rect x="487.42" y="401.07" width="2.2" height="11.13" fill="#5ee05e" stroke="#2a982a" stroke-width="0.35"/>
<rect x="490.32" y="398.08" width="2.2" height="14.12" fill="#e75c5c" stroke="#b23c3c" stroke-width="0.35"/>
<rect x="493.21" y="390.96" width="2.2" height="21.24" fill="#5ee05e" stroke="#2a982a" stroke-width="0.35"/>
<rect x="496.10" y="398.08" width="2.2" height="14.12" fill="#5ee05e" stroke="#2a982a" stroke-width="0.35"/>
<rect x="499.00" y="390.96" width="2.2" height="21.24" fill="#5ee05e" stroke="#2a982a" stroke-width="0.35"/>
<rect x="501.89" y="393.27" width="2.2" height="18.93" fill="#e75c5c" stroke="#b23c3c" stroke-width="0.35"/>
<rect x="504.78" y="383.85" width="2.2" height="28.35" fill="#5ee05e" stroke="#2a982a" stroke-width="0.35"/>
<rect x="507.67" y="399.23" width="2.2" height="12.97" fill="#5ee05e" stroke="#2a982a" stroke-width="0.35"/>
<rect x="510.57" y="400.19" width="2.2" height="12.01" fill="#5ee05e" stroke="#2a982a" stroke-width="0.35"/>
<rect x="513.46" y="396.35" width="2.2" height="15.85" fill="#5ee05e" stroke="#2a982a" stroke-width="0.35"/>
<rect x="516.35" y="400.00" width="2.2" height="12.20" fill="#e75c5c" stroke="#b23c3c" stroke-width="0.35"/>
<rect x="519.25" y="399.04" width="2.2" height="13.16" fill="#e75c5c" stroke="#b23c3c" stroke-width="0.35"/>
<rect x="522.14" y="400.00" width="2.2" height="12.20" fill="#e75c5c" stroke="#b23c3c" stroke-width="0.35"/>
<rect x="525.03" y="390.96" width="2.2" height="21.24" fill="#5ee05e" stroke="#2a982a" stroke-width="0.35"/>
<rect x="527.93" y="397.12" width="2.2" height="15.08" fill="#5ee05e" stroke="#2a982a" stroke-width="0.35"/>
<rect x="530.82" y="381.92" width="2.2" height="30.28" fill="#5ee05e" stroke="#2a982a" stroke-width="0.35"/>
<rect x="533.71" y="393.85" width="2.2" height="18.35" fill="#e75c5c" stroke="#b23c3c" stroke-width="0.35"/>
<rect x="536.60" y="391.92" width="2.2" height="20.28" fill="#e75c5c" stroke="#b23c3c" stroke-width="0.35"/>
<rect x="539.50" y="393.27" width="2.2" height="18.93" fill="#e75c5c" stroke="#b23c3c" stroke-width="0.35"/>
<rect x="542.39" y="382.88" width="2.2" height="29.32" fill="#e75c5c" stroke="#b23c3c" stroke-width="0.35"/>
<rect x="545.28" y="392.88" width="2.2" height="19.32" fill="#e75c5c" stroke="#b23c3c" stroke-width="0.35"/>
<rect x="548.18" y="369.23" width="2.2" height="42.97" fill="#5ee05e" stroke="#2a982a" stroke-width="0.35"/>
<rect x="551.07" y="392.31" width="2.2" height="19.89" fill="#e75c5c" stroke="#b23c3c" stroke-width="0.35"/>
<rect x="553.96" y="400.00" width="2.2" height="12.20" fill="#5ee05e" stroke="#2a982a" stroke-width="0.35"/>
<rect x="556.86" y="389.04" width="2.2" height="23.16" fill="#e75c5c" stroke="#b23c3c" stroke-width="0.35"/>
<rect x="559.75" y="392.88" width="2.2" height="19.32" fill="#e75c5c" stroke="#b23c3c" stroke-width="0.35"/>
<rect x="562.64" y="391.92" width="2.2" height="20.28" fill="#e75c5c" stroke="#b23c3c" stroke-width="0.35"/>
<rect x="565.53" y="400.96" width="2.2" height="11.24" fill="#5ee05e" stroke="#2a982a" stroke-width="0.35"/>
<rect x="568.43" y="397.69" width="2.2" height="14.51" fill="#e75c5c" stroke="#b23c3c" stroke-width="0.35"/>
<rect x="571.32" y="397.12" width="2.2" height="15.08" fill="#5ee05e" stroke="#2a982a" stroke-width="0.35"/>
<rect x="574.21" y="399.62" width="2.2" height="12.58" fill="#5ee05e" stroke="#2a982a" stroke-width="0.35"/>
<rect x="577.11" y="399.04" width="2.2" height="13.16" fill="#5ee05e" stroke="#2a982a" stroke-width="0.35"/>
<rect x="580.00" y="384.62" width="2.2" height="27.58" fill="#5ee05e" stroke="#2a982a" stroke-width="0.35"/>
<rect x="582.89" y="393.85" width="2.2" height="18.35" fill="#e75c5c" stroke="#b23c3c" stroke-width="0.35"/>
<rect x="585.79" y="393.85" width="2.2" height="18.35" fill="#5ee05e" stroke="#2a982a" stroke-width="0.35"/>
<rect x="588.68" y="393.27" width="2.2" height="18.93" fill="#5ee05e" stroke="#2a982a" stroke-width="0.35"/>
<rect x="591.57" y="397.12" width="2.2" height="15.08" fill="#e75c5c" stroke="#b23c3c" stroke-width="0.35"/>
<rect x="594.46" y="371.15" width="2.2" height="41.05" fill="#5ee05e" stroke="#2a982a" stroke-width="0.35"/>
<rect x="597.36" y="381.35" width="2.2" height="30.85" fill="#e75c5c" stroke="#b23c3c" stroke-width="0.35"/>
<rect x="600.25" y="389.42" width="2.2" height="22.78" fill="#5ee05e" stroke="#2a982a" stroke-width="0.35"/>
<rect x="603.14" y="391.35" width="2.2" height="20.85" fill="#e75c5c" stroke="#b23c3c" stroke-width="0.35"/>
<rect x="606.04" y="398.08" width="2.2" height="14.12" fill="#5ee05e" stroke="#2a982a" stroke-width="0.35"/>
<rect x="608.93" y="390.96" width="2.2" height="21.24" fill="#5ee05e" stroke="#2a982a" stroke-width="0.35"/>
<rect x="611.82" y="396.15" width="2.2" height="16.05" fill="#e75c5c" stroke="#b23c3c" stroke-width="0.35"/>
<rect x="614.72" y="394.81" width="2.2" height="17.39" fill="#5ee05e" stroke="#2a982a" stroke-width="0.35"/>
<rect x="617.61" y="371.73" width="2.2" height="40.47" fill="#5ee05e" stroke="#2a982a" stroke-width="0.35"/>
<rect x="620.50" y="391.92" width="2.2" height="20.28" fill="#e75c5c" stroke="#b23c3c" stroke-width="0.35"/>
<rect x="623.39" y="390.38" width="2.2" height="21.82" fill="#5ee05e" stroke="#2a982a" stroke-width="0.35"/>
<rect x="626.29" y="393.85" width="2.2" height="18.35" fill="#5ee05e" stroke="#2a982a" stroke-width="0.35"/>
<rect x="629.18" y="395.77" width="2.2" height="16.43" fill="#5ee05e" stroke="#2a982a" stroke-width="0.35"/>
<rect x="632.07" y="401.15" width="2.2" height="11.05" fill="#5ee05e" stroke="#2a982a" stroke-width="0.35"/>
<rect x="634.97" y="394.23" width="2.2" height="17.97" fill="#e75c5c" stroke="#b23c3c" stroke-width="0.35"/>
<rect x="637.86" y="391.92" width="2.2" height="20.28" fill="#5ee05e" stroke="#2a982a" stroke-width="0.35"/>
<rect x="640.75" y="390.00" width="2.2" height="22.20" fill="#e75c5c" stroke="#b23c3c" stroke-width="0.35"/>
<rect x="643.65" y="397.12" width="2.2" height="15.08" fill="#5ee05e" stroke="#2a982a" stroke-width="0.35"/>
<rect x="646.54" y="403.85" width="2.2" height="8.35" fill="#5ee05e" stroke="#2a982a" stroke-width="0.35"/>
<rect x="649.43" y="400.00" width="2.2" height="12.20" fill="#5ee05e" stroke="#2a982a" stroke-width="0.35"/>
<rect x="652.32" y="397.12" width="2.2" height="15.08" fill="#e75c5c" stroke="#b23c3c" stroke-width="0.35"/>
<rect x="655.22" y="381.35" width="2.2" height="30.85" fill="#5ee05e" stroke="#2a982a" stroke-width="0.35"/>
<rect x="658.11" y="401.54" width="2.2" height="10.66" fill="#5ee05e" stroke="#2a982a" stroke-width="0.35"/>
<rect x="661.00" y="402.12" width="2.2" height="10.08" fill="#e75c5c" stroke="#b23c3c" stroke-width="0.35"/>
<rect x="663.90" y="401.54" width="2.2" height="10.66" fill="#5ee05e" stroke="#2a982a" stroke-width="0.35"/>
<rect x="666.79" y="401.54" width="2.2" height="10.66" fill="#5ee05e" stroke="#2a982a" stroke-width="0.35"/>
<rect x="669.68" y="400.00" width="2.2" height="12.20" fill="#5ee05e" stroke="#2a982a" stroke-width="0.35"/>
<rect x="672.58" y="398.65" width="2.2" height="13.55" fill="#5ee05e" stroke="#2a982a" stroke-width="0.35"/>
<rect x="675.47" y="397.69" width="2.2" height="14.51" fill="#5ee05e" stroke="#2a982a" stroke-width="0.35"/>
<rect x="678.36" y="401.15" width="2.2" height="11.05" fill="#5ee05e" stroke="#2a982a" stroke-width="0.35"/>
<rect x="681.25" y="403.46" width="2.2" height="8.74" fill="#5ee05e" stroke="#2a982a" stroke-width="0.35"/>
<rect x="684.15" y="403.08" width="2.2" height="9.12" fill="#5ee05e" stroke="#2a982a" stroke-width="0.35"/>
<rect x="687.04" y="399.62" width="2.2" height="12.58" fill="#5ee05e" stroke="#2a982a" stroke-width="0.35"/>
<rect x="689.93" y="401.92" width="2.2" height="10.28" fill="#e75c5c" stroke="#b23c3c" stroke-width="0.35"/>
<rect x="692.83" y="377.12" width="2.2" height="35.08" fill="#5ee05e" stroke="#2a982a" stroke-width="0.35"/>
<rect x="695.72" y="401.15" width="2.2" height="11.05" fill="#e75c5c" stroke="#b23c3c" stroke-width="0.35"/>
<rect x="698.61" y="401.92" width="2.2" height="10.28" fill="#5ee05e" stroke="#2a982a" stroke-width="0.35"/>
<rect x="701.51" y="399.04" width="2.2" height="13.16" fill="#e75c5c" stroke="#b23c3c" stroke-width="0.35"/>
<rect x="704.40" y="402.50" width="2.2" height="9.70" fill="#5ee05e" stroke="#2a982a" stroke-width="0.35"/>
<rect x="707.29" y="391.92" width="2.2" height="20.28" fill="#5ee05e" stroke="#2a982a" stroke-width="0.35"/>
<rect x="710.18" y="410.58" width="2.2" height="1.62" fill="#5ee05e" stroke="#2a982a" stroke-width="0.35"/>
<rect x="713.08" y="410.58" width="2.2" height="1.62" fill="#5ee05e" stroke="#2a982a" stroke-width="0.35"/>
<rect x="715.97" y="410.58" width="2.2" height="1.62" fill="#5ee05e" stroke="#2a982a" stroke-width="0.35"/>
<rect x="718.86" y="410.58" width="2.2" height="1.62" fill="#5ee05e" stroke="#2a982a" stroke-width="0.35"/>
<rect x="721.76" y="410.58" width="2.2" height="1.62" fill="#5ee05e" stroke="#2a982a" stroke-width="0.35"/>
<rect x="724.65" y="393.27" width="2.2" height="18.93" fill="#5ee05e" stroke="#2a982a" stroke-width="0.35"/>
<rect x="727.54" y="394.23" width="2.2" height="17.97" fill="#e75c5c" stroke="#b23c3c" stroke-width="0.35"/>
</g>
<!-- volume legend -->
<rect x="1.5" y="346.3" width="24.5" height="7.2" fill="#f4f4f4" stroke="#bbb" stroke-width="0.5"/>
<rect x="2.6" y="347.5" width="1.8" height="4.8" fill="#5ee05e"/><rect x="4.6" y="347.5" width="1.8" height="4.8" fill="#e75c5c"/>
<text x="8" y="352" font-size="5.6" fill="#222">Volume</text>
<line x1="730.5" x2="733" y1="326.3" y2="326.3" stroke="#888" stroke-width="0.6"/>
<text x="734.1" y="328.9" font-size="6.3" fill="#222" textLength="5.1" lengthAdjust="spacingAndGlyphs">60</text>
<line x1="730.5" x2="733" y1="303.6" y2="303.6" stroke="#888" stroke-width="0.6"/>
<text x="734.1" y="306.2" font-size="6.3" fill="#222" textLength="5.1" lengthAdjust="spacingAndGlyphs">70</text>
<line x1="730.5" x2="733" y1="280.8" y2="280.8" stroke="#888" stroke-width="0.6"/>
<text x="734.1" y="283.4" font-size="6.3" fill="#222" textLength="5.1" lengthAdjust="spacingAndGlyphs">80</text>
<line x1="730.5" x2="733" y1="258.1" y2="258.1" stroke="#888" stroke-width="0.6"/>
<text x="734.1" y="260.7" font-size="6.3" fill="#222" textLength="5.1" lengthAdjust="spacingAndGlyphs">90</text>
<line x1="730.5" x2="733" y1="235.4" y2="235.4" stroke="#888" stroke-width="0.6"/>
<text x="734.1" y="238.0" font-size="6.3" font-weight="bold" fill="#222" textLength="9.3" lengthAdjust="spacingAndGlyphs">100</text>
<line x1="730.5" x2="733" y1="212.7" y2="212.7" stroke="#888" stroke-width="0.6"/>
<text x="734.1" y="215.3" font-size="6.3" fill="#222" textLength="7.7" lengthAdjust="spacingAndGlyphs">110</text>
<line x1="730.5" x2="733" y1="190.0" y2="190.0" stroke="#888" stroke-width="0.6"/>
<text x="734.1" y="192.6" font-size="6.3" fill="#222" textLength="7.7" lengthAdjust="spacingAndGlyphs">120</text>
<line x1="730.5" x2="733" y1="167.2" y2="167.2" stroke="#888" stroke-width="0.6"/>
<text x="734.1" y="169.8" font-size="6.3" fill="#222" textLength="7.7" lengthAdjust="spacingAndGlyphs">130</text>
<line x1="730.5" x2="733" y1="144.5" y2="144.5" stroke="#888" stroke-width="0.6"/>
<text x="734.1" y="147.1" font-size="6.3" fill="#222" textLength="7.7" lengthAdjust="spacingAndGlyphs">140</text>
<line x1="730.5" x2="733" y1="121.8" y2="121.8" stroke="#888" stroke-width="0.6"/>
<text x="734.1" y="124.4" font-size="6.3" font-weight="bold" fill="#222" textLength="9.3" lengthAdjust="spacingAndGlyphs">150</text>
<line x1="730.5" x2="733" y1="99.1" y2="99.1" stroke="#888" stroke-width="0.6"/>
<text x="734.1" y="101.7" font-size="6.3" fill="#222" textLength="7.7" lengthAdjust="spacingAndGlyphs">160</text>
<line x1="730.5" x2="733" y1="76.4" y2="76.4" stroke="#888" stroke-width="0.6"/>
<text x="734.1" y="79.0" font-size="6.3" fill="#222" textLength="7.7" lengthAdjust="spacingAndGlyphs">170</text>
<line x1="730.5" x2="733" y1="348.7" y2="348.7" stroke="#888" stroke-width="0.6"/>
<text x="734.2" y="351.1" font-size="6" fill="#222" textLength="9.2" lengthAdjust="spacingAndGlyphs">60M</text>
<line x1="730.5" x2="733" y1="359.9" y2="359.9" stroke="#888" stroke-width="0.6"/>
<text x="734.2" y="362.3" font-size="7" font-weight="bold" fill="#222" textLength="10.8" lengthAdjust="spacingAndGlyphs">50M</text>
<line x1="730.5" x2="733" y1="370.3" y2="370.3" stroke="#888" stroke-width="0.6"/>
<text x="734.2" y="372.7" font-size="6" fill="#222" textLength="9.2" lengthAdjust="spacingAndGlyphs">40M</text>
<line x1="730.5" x2="733" y1="380.7" y2="380.7" stroke="#888" stroke-width="0.6"/>
<text x="734.2" y="383.1" font-size="6" fill="#222" textLength="9.2" lengthAdjust="spacingAndGlyphs">30M</text>
<line x1="730.5" x2="733" y1="391.3" y2="391.3" stroke="#888" stroke-width="0.6"/>
<text x="734.2" y="393.7" font-size="6" fill="#222" textLength="9.2" lengthAdjust="spacingAndGlyphs">20M</text>
<line x1="730.5" x2="733" y1="401.5" y2="401.5" stroke="#888" stroke-width="0.6"/>
<text x="734.2" y="403.9" font-size="6" fill="#222" textLength="9.2" lengthAdjust="spacingAndGlyphs">10M</text>
<rect x="731.5" y="405.6" width="18" height="6.8" fill="#f2fff2" stroke="#7fd07f" stroke-width="0.5"/>
<text x="733" y="411" font-size="5.6" fill="#3aa63a">3 122k</text>
<text x="19.8" y="419.3" font-size="6" text-anchor="middle" fill="#333">mai</text>
<text x="42.3" y="419.3" font-size="6" text-anchor="middle" fill="#333">juil.</text>
<text x="68.7" y="419.3" font-size="6" text-anchor="middle" fill="#333">sept.</text>
<text x="95.2" y="419.3" font-size="6" text-anchor="middle" fill="#333">nov.</text>
<text x="120.8" y="419.6" font-size="6.6" font-weight="bold" text-anchor="middle" fill="#111">2014</text>
<text x="143.8" y="419.3" font-size="6" text-anchor="middle" fill="#333">mars</text>
<text x="170.2" y="419.3" font-size="6" text-anchor="middle" fill="#333">mai</text>
<text x="196.2" y="419.3" font-size="6" text-anchor="middle" fill="#333">juil.</text>
<text x="219.2" y="419.3" font-size="6" text-anchor="middle" fill="#333">sept.</text>
<text x="245.2" y="419.3" font-size="6" text-anchor="middle" fill="#333">nov.</text>
<text x="271.2" y="419.6" font-size="6.6" font-weight="bold" text-anchor="middle" fill="#111">2015</text>
<text x="294.2" y="419.3" font-size="6" text-anchor="middle" fill="#333">mars</text>
<text x="320.8" y="419.3" font-size="6" text-anchor="middle" fill="#333">mai</text>
<text x="346.2" y="419.3" font-size="6" text-anchor="middle" fill="#333">juil.</text>
<text x="372.1" y="419.3" font-size="6" text-anchor="middle" fill="#333">sept.</text>
<text x="497" y="419.3" font-size="6" text-anchor="middle" fill="#333">juil.</text>
<text x="523" y="419.3" font-size="6" text-anchor="middle" fill="#333">sept.</text>
<text x="549" y="419.3" font-size="6" text-anchor="middle" fill="#333">nov.</text>
<text x="571.5" y="419.6" font-size="6.6" font-weight="bold" text-anchor="middle" fill="#111">2017</text>
<text x="597.5" y="419.3" font-size="6" text-anchor="middle" fill="#333">mars</text>
<text x="622" y="419.3" font-size="6" text-anchor="middle" fill="#333">mai</text>
<text x="647.3" y="419.3" font-size="6" text-anchor="middle" fill="#333">juil.</text>
<text x="673.3" y="419.3" font-size="6" text-anchor="middle" fill="#333">sept.</text>
<text x="699.2" y="419.3" font-size="6" text-anchor="middle" fill="#333">nov.</text>
<text x="719.4" y="419.6" font-size="6.6" font-weight="bold" text-anchor="middle" fill="#111">20</text>
<rect x="723.3" y="413" width="7" height="8" fill="#2f8ff0"/>
<text x="726.8" y="419.3" font-size="5.5" fill="#fff" text-anchor="middle">»</text>
<!-- annotations -->
<circle cx="650.75" cy="226.55" r="28.3" fill="none" stroke="url(#gcirc)" stroke-width="2"/>
<g fill="#0cf20c" stroke="#0cf20c" stroke-width="0.5" stroke-linejoin="round" filter="url(#bl)">
<path d="M647.1 229.7 L649.70 232.30 H648.50 V236.10 H645.70 V232.30 H644.50Z"/>
<path d="M650.2 229.0 L652.70 231.40 H651.60 V235.00 H648.80 V231.40 H647.70Z"/>
<path d="M652.9 231.4 L655.20 233.60 H654.25 V237.80 H651.55 V233.60 H650.60Z"/>
<path d="M656.4 226.9 L659.20 229.70 H657.80 V233.50 H655.00 V229.70 H653.60Z"/>
</g>
<!-- confirmed signals box -->
<line x1="568.4" y1="172" x2="618" y2="207.6" stroke="url(#garr)" stroke-width="1.7"/>
<polygon points="622.2,210.6 614,209.2 618.2,203.4" fill="#4fd0e2"/>
<rect x="502.5" y="105.5" width="130" height="65.5" rx="15.5" ry="15.5" fill="#fff" stroke="url(#gb)" stroke-width="2.4"/>
<g font-weight="bold" fill="#1b9ee4" text-anchor="middle" font-size="21">
<text id="t1" x="567.8" y="130.7">Confirmed</text>
<text id="t2" x="567.8" y="157.8" textLength="70.6" lengthAdjust="spacingAndGlyphs">Signals</text>
</g>
<!-- buying volumes -->
<rect x="570.2" y="360" width="104" height="54.8" fill="none" stroke="url(#grect)" stroke-width="4.3"/>
<line x1="491" y1="386.7" x2="562" y2="386.7" stroke="url(#garr2)" stroke-width="1.7"/>
<polygon points="568,386.8 561.6,383 561.6,390.6" fill="#4fd0e2"/>
<rect x="373.95" y="354.25" width="115.9" height="65.6" rx="16.5" ry="16.5" fill="#fff" stroke="url(#gb)" stroke-width="2.5"/>
<g font-weight="bold" fill="#1b9ee4" text-anchor="middle" font-size="20.5">
<text id="t3" x="431.8" y="380.8">Buying</text>
<text id="t4" x="431.8" y="408.1" textLength="84.8" lengthAdjust="spacingAndGlyphs">Volumes</text>
</g>
</svg>
</body></html>
